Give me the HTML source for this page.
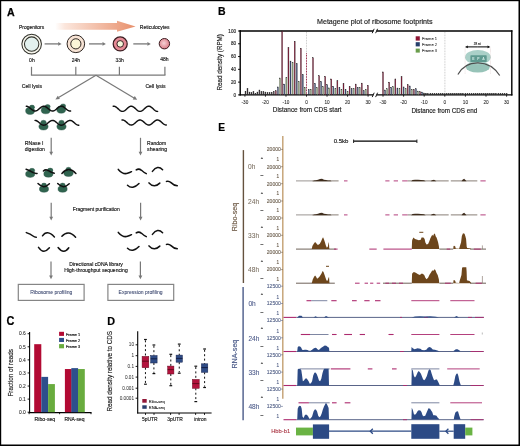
<!DOCTYPE html>
<html><head><meta charset="utf-8"><style>
html,body{margin:0;padding:0;background:#fff;}
svg{display:block;will-change:transform;}
text{font-family:"Liberation Sans", sans-serif;}
</style></head><body>
<svg width="520" height="446" viewBox="0 0 520 446">
<rect x="0" y="0" width="520" height="446" fill="#fff"/>
<text x="6.90" y="15.90" font-size="10.6" fill="#000" stroke="#000" stroke-width="0.25" font-weight="bold">A</text>
<defs><linearGradient id="ga" x1="0" x2="1" y1="0" y2="0"><stop offset="0" stop-color="#fff" stop-opacity="1"/><stop offset="0.12" stop-color="#fbe6dc"/><stop offset="1" stop-color="#e8906c"/></linearGradient><radialGradient id="g48" cx="0.45" cy="0.45" r="0.6"><stop offset="0" stop-color="#f6d3d6"/><stop offset="1" stop-color="#d7737f"/></radialGradient></defs>
<path d="M55.2,23.1 L117.0,23.1 L117.0,20.8 L135.6,26.4 L117.0,31.8 L117.0,29.8 L55.2,29.8 Z" fill="url(#ga)"/>
<text x="19.00" y="28.50" font-size="5.0" fill="#1a1a1a" stroke="#1a1a1a" stroke-width="0.16" textLength="25.20" lengthAdjust="spacingAndGlyphs">Progenitors</text>
<text x="139.80" y="28.50" font-size="5.0" fill="#1a1a1a" stroke="#1a1a1a" stroke-width="0.16" textLength="29.60" lengthAdjust="spacingAndGlyphs">Reticulocytes</text>
<circle cx="31.65" cy="44.10" r="9.80" fill="#f9f8ef" stroke="#33332c" stroke-width="1.05"/>
<circle cx="31.65" cy="44.10" r="7.20" fill="#e3f1ee" stroke="#33332c" stroke-width="1.05"/>
<circle cx="75.85" cy="43.85" r="8.80" fill="#f7e3d4" stroke="#2e2622" stroke-width="1.0"/>
<circle cx="75.85" cy="43.85" r="5.10" fill="#fcf5d8" stroke="#2e2622" stroke-width="1.0"/>
<circle cx="120.20" cy="43.90" r="7.00" fill="#e58a95" stroke="#3a1c20" stroke-width="1.25"/>
<circle cx="120.20" cy="43.90" r="3.30" fill="#f3f7da" stroke="#3a1c20" stroke-width="1.0"/>
<circle cx="164.4" cy="43.7" r="5.2" fill="url(#g48)" stroke="#3a1c20" stroke-width="1.0"/>
<line x1="44.60" y1="43.90" x2="58.50" y2="43.90" stroke="#787878" stroke-width="1.3"/>
<polygon points="61.60,43.90 58.20,45.70 58.20,42.10" fill="#787878"/>
<line x1="89.00" y1="43.90" x2="102.80" y2="43.90" stroke="#787878" stroke-width="1.3"/>
<polygon points="105.90,43.90 102.50,45.70 102.50,42.10" fill="#787878"/>
<line x1="133.30" y1="43.90" x2="147.70" y2="43.90" stroke="#787878" stroke-width="1.3"/>
<polygon points="150.80,43.90 147.40,45.70 147.40,42.10" fill="#787878"/>
<text x="31.90" y="61.80" font-size="5.0" fill="#1a1a1a" stroke="#1a1a1a" stroke-width="0.16" text-anchor="middle">0h</text>
<text x="75.80" y="62.10" font-size="5.0" fill="#1a1a1a" stroke="#1a1a1a" stroke-width="0.16" text-anchor="middle">24h</text>
<text x="119.60" y="62.20" font-size="5.0" fill="#1a1a1a" stroke="#1a1a1a" stroke-width="0.16" text-anchor="middle">33h</text>
<text x="164.40" y="60.70" font-size="5.0" fill="#1a1a1a" stroke="#1a1a1a" stroke-width="0.16" text-anchor="middle">48h</text>
<line x1="31.50" y1="66.80" x2="31.50" y2="75.10" stroke="#787878" stroke-width="1.2"/>
<line x1="75.80" y1="66.80" x2="75.80" y2="75.10" stroke="#787878" stroke-width="1.2"/>
<line x1="119.40" y1="66.80" x2="119.40" y2="75.10" stroke="#787878" stroke-width="1.2"/>
<line x1="164.90" y1="66.80" x2="164.90" y2="75.10" stroke="#787878" stroke-width="1.2"/>
<line x1="30.90" y1="75.10" x2="165.50" y2="75.10" stroke="#787878" stroke-width="1.2"/>
<line x1="96.00" y1="75.30" x2="58.58" y2="97.51" stroke="#787878" stroke-width="1.2"/>
<polygon points="55.40,99.40 57.82,95.64 59.86,99.08" fill="#787878"/>
<line x1="96.00" y1="75.30" x2="134.02" y2="97.91" stroke="#787878" stroke-width="1.2"/>
<polygon points="137.20,99.80 132.74,99.47 134.78,96.04" fill="#787878"/>
<text x="21.80" y="88.20" font-size="5.0" fill="#1a1a1a" stroke="#1a1a1a" stroke-width="0.16" textLength="20.30" lengthAdjust="spacingAndGlyphs">Cell lysis</text>
<text x="145.40" y="88.20" font-size="5.0" fill="#1a1a1a" stroke="#1a1a1a" stroke-width="0.16" textLength="20.20" lengthAdjust="spacingAndGlyphs">Cell lysis</text>
<ellipse cx="30.10" cy="110.80" rx="4.50" ry="3.60" fill="#30644f" stroke="#244f42" stroke-width="0.4"/>
<ellipse cx="32.00" cy="107.20" rx="2.60" ry="2.10" fill="#30644f" stroke="#244f42" stroke-width="0.4"/>
<ellipse cx="45.70" cy="110.20" rx="4.50" ry="3.60" fill="#30644f" stroke="#244f42" stroke-width="0.4"/>
<ellipse cx="47.60" cy="106.60" rx="2.60" ry="2.10" fill="#30644f" stroke="#244f42" stroke-width="0.4"/>
<ellipse cx="61.20" cy="109.60" rx="4.50" ry="3.60" fill="#30644f" stroke="#244f42" stroke-width="0.4"/>
<ellipse cx="63.10" cy="106.00" rx="2.60" ry="2.10" fill="#30644f" stroke="#244f42" stroke-width="0.4"/>
<polyline points="26.30,106.20 26.80,106.24 27.30,106.35 27.79,106.54 28.29,106.79 28.79,107.10 29.29,107.45 29.78,107.85 30.28,108.26 30.78,108.69 31.28,109.12 31.78,109.52 32.27,109.90 32.77,110.24 33.27,110.53 33.77,110.75 34.26,110.91 34.76,110.99 35.26,110.99 35.76,110.92 36.26,110.78 36.75,110.57 37.25,110.29 37.75,109.96 38.25,109.59 38.74,109.18 39.24,108.76 39.74,108.33 40.24,107.91 40.73,107.51 41.23,107.15 41.73,106.83 42.23,106.57 42.73,106.38 43.22,106.25 43.72,106.20 44.22,106.23 44.72,106.33 45.21,106.50 45.71,106.74 46.21,107.04 46.71,107.39 47.21,107.78 47.70,108.20 48.20,108.62 48.70,109.05 49.20,109.46 49.69,109.85 50.19,110.19 50.69,110.48 51.19,110.72 51.69,110.89 52.18,110.98 52.68,111.00 53.18,110.94 53.68,110.81 54.17,110.60 54.67,110.34 55.17,110.01 55.67,109.65 56.17,109.25 56.66,108.83 57.16,108.40 57.66,107.98 58.16,107.57 58.65,107.20 59.15,106.88 59.65,106.61 60.15,106.40 60.64,106.27 61.14,106.20 61.64,106.22 62.14,106.31 62.64,106.47 63.13,106.70 63.63,106.99 64.13,107.34 64.63,107.72 65.12,108.13 65.62,108.55 66.12,108.98 66.62,109.40 67.12,109.79 67.61,110.14 68.11,110.44 68.61,110.69 69.11,110.86 69.60,110.97 70.10,111.00 70.60,110.95" fill="none" stroke="#111" stroke-width="1.45" stroke-linecap="round" stroke-linejoin="round"/>
<ellipse cx="43.50" cy="126.60" rx="4.60" ry="3.40" fill="#30644f" stroke="#244f42" stroke-width="0.4"/>
<ellipse cx="43.50" cy="122.30" rx="2.70" ry="2.00" fill="#30644f" stroke="#244f42" stroke-width="0.4"/>
<ellipse cx="61.50" cy="126.60" rx="4.60" ry="3.40" fill="#30644f" stroke="#244f42" stroke-width="0.4"/>
<ellipse cx="61.50" cy="122.30" rx="2.70" ry="2.00" fill="#30644f" stroke="#244f42" stroke-width="0.4"/>
<polyline points="35.00,120.40 35.50,120.44 36.00,120.55 36.49,120.74 36.99,120.99 37.49,121.30 37.99,121.65 38.48,122.05 38.98,122.46 39.48,122.89 39.98,123.31 40.48,123.72 40.97,124.10 41.47,124.44 41.97,124.73 42.47,124.95 42.96,125.10 43.46,125.19 43.96,125.19 44.46,125.12 44.95,124.98 45.45,124.77 45.95,124.49 46.45,124.16 46.95,123.79 47.44,123.38 47.94,122.96 48.44,122.53 48.94,122.11 49.43,121.71 49.93,121.35 50.43,121.03 50.93,120.77 51.42,120.58 51.92,120.45 52.42,120.40 52.92,120.43 53.42,120.53 53.91,120.70 54.41,120.94 54.91,121.24 55.41,121.59 55.90,121.98 56.40,122.39 56.90,122.82 57.40,123.25 57.90,123.66 58.39,124.04 58.89,124.39 59.39,124.68 59.89,124.92 60.38,125.08 60.88,125.18 61.38,125.20 61.88,125.14 62.38,125.01 62.87,124.80 63.37,124.54 63.87,124.22 64.37,123.85 64.86,123.45 65.36,123.03 65.86,122.60 66.36,122.18 66.85,121.77 67.35,121.41 67.85,121.08 68.35,120.81 68.85,120.60 69.34,120.47 69.84,120.40 70.34,120.42 70.84,120.51 71.33,120.67 71.83,120.90 72.33,121.19 72.83,121.53 73.32,121.92 73.82,122.33 74.32,122.75 74.82,123.18 75.32,123.60 75.81,123.99 76.31,124.34 76.81,124.64 77.31,124.88 77.80,125.06 78.30,125.17 78.80,125.20" fill="none" stroke="#111" stroke-width="1.45" stroke-linecap="round" stroke-linejoin="round"/>
<polyline points="113.20,106.25 113.70,106.20 114.20,106.23 114.70,106.35 115.20,106.54 115.69,106.81 116.19,107.14 116.69,107.52 117.19,107.94 117.69,108.40 118.19,108.86 118.69,109.32 119.19,109.77 119.69,110.18 120.18,110.55 120.68,110.87 121.18,111.11 121.68,111.29 122.18,111.38 122.68,111.39 123.18,111.32 123.68,111.17 124.18,110.94 124.67,110.65 125.17,110.29 125.67,109.89 126.17,109.45 126.67,108.99 127.17,108.53 127.67,108.07 128.17,107.64 128.67,107.24 129.16,106.90 129.66,106.61 130.16,106.40 130.66,106.26 131.16,106.20 131.66,106.23 132.16,106.34 132.66,106.52 133.16,106.78 133.65,107.11 134.15,107.49 134.65,107.91 135.15,108.36 135.65,108.82 136.15,109.29 136.65,109.73 137.15,110.15 137.64,110.52 138.14,110.84 138.64,111.10 139.14,111.28 139.64,111.38 140.14,111.40 140.64,111.33 141.14,111.19 141.64,110.96 142.13,110.67 142.63,110.32 143.13,109.92 143.63,109.49 144.13,109.03 144.63,108.56 145.13,108.11 145.63,107.67 146.13,107.27 146.62,106.92 147.12,106.63 147.62,106.41 148.12,106.27 148.62,106.20 149.12,106.22 149.62,106.33 150.12,106.51 150.62,106.76 151.11,107.08 151.61,107.46 152.11,107.88 152.61,108.32 153.11,108.79 153.61,109.25 154.11,109.70 154.61,110.12 155.11,110.50 155.60,110.82 156.10,111.08 156.60,111.27 157.10,111.37 157.60,111.40" fill="none" stroke="#111" stroke-width="1.45" stroke-linecap="round" stroke-linejoin="round"/>
<polyline points="122.00,120.04 122.50,120.00 123.00,120.04 123.49,120.16 123.99,120.35 124.49,120.61 124.99,120.93 125.48,121.30 125.98,121.71 126.48,122.15 126.98,122.59 127.48,123.03 127.97,123.46 128.47,123.86 128.97,124.21 129.47,124.50 129.96,124.74 130.46,124.90 130.96,124.99 131.46,124.99 131.96,124.92 132.45,124.77 132.95,124.55 133.45,124.26 133.95,123.92 134.44,123.53 134.94,123.11 135.44,122.67 135.94,122.22 136.43,121.78 136.93,121.37 137.43,120.99 137.93,120.66 138.43,120.39 138.92,120.18 139.42,120.05 139.92,120.00 140.42,120.03 140.91,120.13 141.41,120.31 141.91,120.57 142.41,120.88 142.91,121.24 143.40,121.65 143.90,122.08 144.40,122.52 144.90,122.97 145.39,123.39 145.89,123.80 146.39,124.15 146.89,124.46 147.39,124.71 147.88,124.88 148.38,124.98 148.88,125.00 149.38,124.94 149.87,124.80 150.37,124.59 150.87,124.31 151.37,123.97 151.87,123.59 152.36,123.18 152.86,122.74 153.36,122.29 153.86,121.85 154.35,121.43 154.85,121.05 155.35,120.71 155.85,120.43 156.34,120.21 156.84,120.07 157.34,120.00 157.84,120.02 158.34,120.11 158.83,120.28 159.33,120.52 159.83,120.82 160.33,121.18 160.82,121.58 161.32,122.01 161.82,122.45 162.32,122.90 162.82,123.33 163.31,123.73 163.81,124.10 164.31,124.42 164.81,124.67 165.30,124.86 165.80,124.97 166.30,125.00" fill="none" stroke="#111" stroke-width="1.45" stroke-linecap="round" stroke-linejoin="round"/>
<text x="24.70" y="145.30" font-size="5.0" fill="#1a1a1a" stroke="#1a1a1a" stroke-width="0.16" textLength="18.80" lengthAdjust="spacingAndGlyphs">RNase I</text>
<text x="24.70" y="150.90" font-size="5.0" fill="#1a1a1a" stroke="#1a1a1a" stroke-width="0.16" textLength="20.20" lengthAdjust="spacingAndGlyphs">digestion</text>
<text x="147.10" y="145.30" font-size="5.0" fill="#1a1a1a" stroke="#1a1a1a" stroke-width="0.16" textLength="19.00" lengthAdjust="spacingAndGlyphs">Random</text>
<text x="147.10" y="150.90" font-size="5.0" fill="#1a1a1a" stroke="#1a1a1a" stroke-width="0.16" textLength="20.00" lengthAdjust="spacingAndGlyphs">shearing</text>
<line x1="51.20" y1="137.80" x2="51.20" y2="152.10" stroke="#787878" stroke-width="1.2"/>
<polygon points="51.20,155.40 49.30,151.80 53.10,151.80" fill="#787878"/>
<line x1="140.50" y1="137.80" x2="140.50" y2="152.10" stroke="#787878" stroke-width="1.2"/>
<polygon points="140.50,155.40 138.60,151.80 142.40,151.80" fill="#787878"/>
<ellipse cx="30.20" cy="174.10" rx="4.60" ry="3.30" fill="#30644f" stroke="#244f42" stroke-width="0.4"/>
<ellipse cx="32.00" cy="170.50" rx="2.70" ry="2.20" fill="#30644f" stroke="#244f42" stroke-width="0.4"/>
<path d="M26.1,169.3 Q30,170.6 33.2,172.7 Q35,173.6 37.1,173.4" fill="none" stroke="#111" stroke-width="1.5" stroke-linecap="round"/>
<ellipse cx="48.40" cy="173.90" rx="4.60" ry="3.30" fill="#30644f" stroke="#244f42" stroke-width="0.4"/>
<ellipse cx="50.20" cy="170.30" rx="2.70" ry="2.20" fill="#30644f" stroke="#244f42" stroke-width="0.4"/>
<path d="M43.4,171.0 Q45.5,169.0 48.5,170.6 Q51.5,172.6 54.2,173.3" fill="none" stroke="#111" stroke-width="1.5" stroke-linecap="round"/>
<ellipse cx="68.50" cy="173.20" rx="4.60" ry="3.30" fill="#30644f" stroke="#244f42" stroke-width="0.4"/>
<ellipse cx="68.50" cy="169.40" rx="2.60" ry="2.10" fill="#30644f" stroke="#244f42" stroke-width="0.4"/>
<path d="M61.9,173.4 Q68.6,165.8 75.9,173.4" fill="none" stroke="#111" stroke-width="1.5" stroke-linecap="round"/>
<ellipse cx="44.00" cy="189.00" rx="4.60" ry="3.30" fill="#30644f" stroke="#244f42" stroke-width="0.4"/>
<ellipse cx="44.00" cy="185.20" rx="2.60" ry="2.10" fill="#30644f" stroke="#244f42" stroke-width="0.4"/>
<path d="M38.0,183.6 Q43.7,189.6 49.4,183.8" fill="none" stroke="#111" stroke-width="1.5" stroke-linecap="round"/>
<ellipse cx="62.60" cy="189.00" rx="4.60" ry="3.30" fill="#30644f" stroke="#244f42" stroke-width="0.4"/>
<ellipse cx="62.60" cy="185.20" rx="2.60" ry="2.10" fill="#30644f" stroke="#244f42" stroke-width="0.4"/>
<path d="M57.7,183.6 Q63.4,189.6 69.2,183.8" fill="none" stroke="#111" stroke-width="1.5" stroke-linecap="round"/>
<path d="M118.3,169.4 Q123,174.8 127.5,173.3 Q129.8,172.6 131.5,171.7" fill="none" stroke="#111" stroke-width="1.5" stroke-linecap="round"/>
<path d="M136.2,169.9 Q138.8,168.2 141.5,170.3 Q144,172.6 146.3,173.6" fill="none" stroke="#111" stroke-width="1.5" stroke-linecap="round"/>
<path d="M152.4,171.4 Q157.6,164.6 162.6,169.8" fill="none" stroke="#111" stroke-width="1.5" stroke-linecap="round"/>
<path d="M127.5,185.3 Q132.5,190.2 139.0,183.5" fill="none" stroke="#111" stroke-width="1.5" stroke-linecap="round"/>
<path d="M149.0,182.9 Q154.2,188.6 159.8,183.1" fill="none" stroke="#111" stroke-width="1.5" stroke-linecap="round"/>
<path d="M166.5,181.4 Q168.8,180.6 171.0,182.6 Q174,185.6 177.3,185.8" fill="none" stroke="#111" stroke-width="1.5" stroke-linecap="round"/>
<text x="72.70" y="210.60" font-size="5.0" fill="#1a1a1a" stroke="#1a1a1a" stroke-width="0.16" textLength="47.00" lengthAdjust="spacingAndGlyphs">Fragment purification</text>
<line x1="51.20" y1="202.80" x2="51.20" y2="217.10" stroke="#787878" stroke-width="1.2"/>
<polygon points="51.20,220.40 49.30,216.80 53.10,216.80" fill="#787878"/>
<line x1="140.60" y1="202.80" x2="140.60" y2="217.10" stroke="#787878" stroke-width="1.2"/>
<polygon points="140.60,220.40 138.70,216.80 142.50,216.80" fill="#787878"/>
<path d="M26.3,232.6 Q30.5,234.0 33.0,236.0 Q34.6,237.3 36.3,237.2" fill="none" stroke="#111" stroke-width="1.5" stroke-linecap="round"/>
<path d="M42.5,235.8 Q47.0,229.2 54.4,236.9" fill="none" stroke="#111" stroke-width="1.5" stroke-linecap="round"/>
<path d="M61.9,236.3 Q68.1,229.2 75.6,237.2" fill="none" stroke="#111" stroke-width="1.5" stroke-linecap="round"/>
<path d="M38.5,247.3 Q43.6,254.8 49.4,247.8" fill="none" stroke="#111" stroke-width="1.5" stroke-linecap="round"/>
<path d="M58.1,247.5 Q63.8,254.8 68.8,247.8" fill="none" stroke="#111" stroke-width="1.5" stroke-linecap="round"/>
<path d="M118.3,169.4 Q123,174.8 127.5,173.3 Q129.8,172.6 131.5,171.7" fill="none" stroke="#111" stroke-width="1.5" stroke-linecap="round" transform="translate(0 63.0)"/>
<path d="M136.2,169.9 Q138.8,168.2 141.5,170.3 Q144,172.6 146.3,173.6" fill="none" stroke="#111" stroke-width="1.5" stroke-linecap="round" transform="translate(0 63.0)"/>
<path d="M152.4,171.4 Q157.6,164.6 162.6,169.8" fill="none" stroke="#111" stroke-width="1.5" stroke-linecap="round" transform="translate(0 63.0)"/>
<path d="M127.5,185.3 Q132.5,190.2 139.0,183.5" fill="none" stroke="#111" stroke-width="1.5" stroke-linecap="round" transform="translate(0 63.0)"/>
<path d="M149.0,182.9 Q154.2,188.6 159.8,183.1" fill="none" stroke="#111" stroke-width="1.5" stroke-linecap="round" transform="translate(0 63.0)"/>
<path d="M166.5,181.4 Q168.8,180.6 171.0,182.6 Q174,185.6 177.3,185.8" fill="none" stroke="#111" stroke-width="1.5" stroke-linecap="round" transform="translate(0 63.0)"/>
<line x1="51.00" y1="261.60" x2="51.00" y2="275.90" stroke="#787878" stroke-width="1.2"/>
<polygon points="51.00,279.20 49.10,275.60 52.90,275.60" fill="#787878"/>
<line x1="140.40" y1="261.60" x2="140.40" y2="275.90" stroke="#787878" stroke-width="1.2"/>
<polygon points="140.40,279.20 138.50,275.60 142.30,275.60" fill="#787878"/>
<text x="69.30" y="265.80" font-size="5.0" fill="#1a1a1a" stroke="#1a1a1a" stroke-width="0.16" textLength="53.60" lengthAdjust="spacingAndGlyphs">Directional cDNA library</text>
<text x="64.30" y="271.50" font-size="5.0" fill="#1a1a1a" stroke="#1a1a1a" stroke-width="0.16" textLength="63.40" lengthAdjust="spacingAndGlyphs">High-throughput sequencing</text>
<rect x="18.3" y="284.4" width="65.8" height="16.0" fill="none" stroke="#858585" stroke-width="1.2"/>
<rect x="107.9" y="284.4" width="65.8" height="16.0" fill="none" stroke="#858585" stroke-width="1.2"/>
<text x="30.30" y="293.60" font-size="5.0" fill="#34406a" stroke="#34406a" stroke-width="0.05" textLength="42.00" lengthAdjust="spacingAndGlyphs">Ribosome profiling</text>
<text x="118.60" y="293.60" font-size="5.0" fill="#34406a" stroke="#34406a" stroke-width="0.05" textLength="44.00" lengthAdjust="spacingAndGlyphs">Expression profiling</text>
<text x="6.40" y="325.00" font-size="12.0" fill="#000" stroke="#000" stroke-width="0.2" font-weight="bold" textLength="7.90" lengthAdjust="spacingAndGlyphs">C</text>
<line x1="29.60" y1="332.00" x2="29.60" y2="412.80" stroke="#000" stroke-width="1.1"/>
<line x1="28.80" y1="412.60" x2="91.40" y2="412.60" stroke="#000" stroke-width="1.3"/>
<line x1="27.60" y1="412.20" x2="29.60" y2="412.20" stroke="#000" stroke-width="0.9"/>
<text x="25.80" y="413.90" font-size="4.9" fill="#222" stroke="#222" stroke-width="0.06" text-anchor="end">0.0</text>
<line x1="27.60" y1="399.12" x2="29.60" y2="399.12" stroke="#000" stroke-width="0.9"/>
<text x="25.80" y="400.82" font-size="4.9" fill="#222" stroke="#222" stroke-width="0.06" text-anchor="end">0.1</text>
<line x1="27.60" y1="386.04" x2="29.60" y2="386.04" stroke="#000" stroke-width="0.9"/>
<text x="25.80" y="387.74" font-size="4.9" fill="#222" stroke="#222" stroke-width="0.06" text-anchor="end">0.2</text>
<line x1="27.60" y1="372.96" x2="29.60" y2="372.96" stroke="#000" stroke-width="0.9"/>
<text x="25.80" y="374.66" font-size="4.9" fill="#222" stroke="#222" stroke-width="0.06" text-anchor="end">0.3</text>
<line x1="27.60" y1="359.88" x2="29.60" y2="359.88" stroke="#000" stroke-width="0.9"/>
<text x="25.80" y="361.58" font-size="4.9" fill="#222" stroke="#222" stroke-width="0.06" text-anchor="end">0.4</text>
<line x1="27.60" y1="346.80" x2="29.60" y2="346.80" stroke="#000" stroke-width="0.9"/>
<text x="25.80" y="348.50" font-size="4.9" fill="#222" stroke="#222" stroke-width="0.06" text-anchor="end">0.5</text>
<line x1="27.60" y1="333.72" x2="29.60" y2="333.72" stroke="#000" stroke-width="0.9"/>
<text x="25.80" y="335.42" font-size="4.9" fill="#222" stroke="#222" stroke-width="0.06" text-anchor="end">0.6</text>
<line x1="29.10" y1="412.20" x2="29.10" y2="414.20" stroke="#000" stroke-width="0.9"/>
<line x1="59.60" y1="412.20" x2="59.60" y2="414.20" stroke="#000" stroke-width="0.9"/>
<line x1="91.00" y1="412.20" x2="91.00" y2="414.20" stroke="#000" stroke-width="0.9"/>
<rect x="34.20" y="344.18" width="7.10" height="68.02" fill="#b20a33"/>
<rect x="41.30" y="376.88" width="6.80" height="35.32" fill="#2e4f8c"/>
<rect x="48.10" y="384.08" width="6.80" height="28.12" fill="#69ac3e"/>
<rect x="64.90" y="369.04" width="6.80" height="43.16" fill="#b20a33"/>
<rect x="71.30" y="368.12" width="6.80" height="44.08" fill="#2e4f8c"/>
<rect x="78.00" y="369.04" width="6.80" height="43.16" fill="#69ac3e"/>
<rect x="59.10" y="331.80" width="4.90" height="4.10" fill="#b20a33"/>
<rect x="59.10" y="337.90" width="4.90" height="4.10" fill="#2e4f8c"/>
<rect x="59.10" y="344.10" width="4.90" height="4.20" fill="#69ac3e"/>
<text x="65.90" y="335.90" font-size="3.9" fill="#111" stroke="#111" stroke-width="0.15" textLength="14.30" lengthAdjust="spacingAndGlyphs">Frame 1</text>
<text x="65.90" y="342.00" font-size="3.9" fill="#111" stroke="#111" stroke-width="0.15" textLength="14.30" lengthAdjust="spacingAndGlyphs">Frame 2</text>
<text x="65.90" y="348.30" font-size="3.9" fill="#111" stroke="#111" stroke-width="0.15" textLength="14.30" lengthAdjust="spacingAndGlyphs">Frame 3</text>
<text x="13.40" y="372.80" font-size="6.3" fill="#222" stroke="#222" stroke-width="0.16" text-anchor="middle" textLength="47.50" lengthAdjust="spacingAndGlyphs" transform="rotate(-90 13.40 372.80)">Fraction of reads</text>
<text x="34.60" y="421.30" font-size="5.0" fill="#222" stroke="#222" stroke-width="0.16" textLength="20.60" lengthAdjust="spacingAndGlyphs">Ribo-seq</text>
<text x="64.40" y="421.30" font-size="5.0" fill="#222" stroke="#222" stroke-width="0.16" textLength="20.20" lengthAdjust="spacingAndGlyphs">RNA-seq</text>
<text x="107.30" y="324.80" font-size="11.0" fill="#000" stroke="#000" stroke-width="0.2" font-weight="bold" textLength="7.80" lengthAdjust="spacingAndGlyphs">D</text>
<line x1="137.70" y1="331.20" x2="137.70" y2="413.50" stroke="#000" stroke-width="1.1"/>
<line x1="137.20" y1="413.00" x2="211.60" y2="413.00" stroke="#000" stroke-width="1.1"/>
<line x1="135.60" y1="344.80" x2="137.70" y2="344.80" stroke="#000" stroke-width="0.9"/>
<text x="134.00" y="346.40" font-size="4.7" fill="#333" stroke="#333" stroke-width="0.03" text-anchor="end">10</text>
<line x1="135.60" y1="355.70" x2="137.70" y2="355.70" stroke="#000" stroke-width="0.9"/>
<text x="134.00" y="357.30" font-size="4.7" fill="#333" stroke="#333" stroke-width="0.03" text-anchor="end">1</text>
<line x1="135.60" y1="366.40" x2="137.70" y2="366.40" stroke="#000" stroke-width="0.9"/>
<text x="134.00" y="368.00" font-size="4.7" fill="#333" stroke="#333" stroke-width="0.03" text-anchor="end">0.1</text>
<line x1="135.60" y1="377.10" x2="137.70" y2="377.10" stroke="#000" stroke-width="0.9"/>
<text x="134.00" y="378.70" font-size="4.7" fill="#333" stroke="#333" stroke-width="0.03" text-anchor="end">0.01</text>
<line x1="135.60" y1="388.20" x2="137.70" y2="388.20" stroke="#000" stroke-width="0.9"/>
<text x="134.00" y="389.80" font-size="4.7" fill="#333" stroke="#333" stroke-width="0.03" text-anchor="end">0.001</text>
<line x1="135.60" y1="398.20" x2="137.70" y2="398.20" stroke="#000" stroke-width="0.9"/>
<text x="134.00" y="399.80" font-size="4.7" fill="#333" stroke="#333" stroke-width="0.03" text-anchor="end">0.0001</text>
<line x1="145.50" y1="413.00" x2="145.50" y2="414.90" stroke="#000" stroke-width="0.9"/>
<line x1="154.00" y1="413.00" x2="154.00" y2="414.90" stroke="#000" stroke-width="0.9"/>
<line x1="170.60" y1="413.00" x2="170.60" y2="414.90" stroke="#000" stroke-width="0.9"/>
<line x1="179.10" y1="413.00" x2="179.10" y2="414.90" stroke="#000" stroke-width="0.9"/>
<line x1="195.60" y1="413.00" x2="195.60" y2="414.90" stroke="#000" stroke-width="0.9"/>
<line x1="204.50" y1="413.00" x2="204.50" y2="414.90" stroke="#000" stroke-width="0.9"/>
<line x1="145.45" y1="340.30" x2="145.45" y2="356.40" stroke="#111" stroke-width="1.0" stroke-dasharray="2.0,2.4"/>
<line x1="145.45" y1="367.70" x2="145.45" y2="383.40" stroke="#111" stroke-width="1.0" stroke-dasharray="2.0,2.4"/>
<line x1="144.05" y1="339.50" x2="146.85" y2="339.50" stroke="#111" stroke-width="1.2"/>
<line x1="144.05" y1="384.20" x2="146.85" y2="384.20" stroke="#111" stroke-width="1.2"/>
<rect x="142.10" y="356.40" width="6.70" height="11.30" fill="#b3133d" stroke="#6a0820" stroke-width="0.5"/>
<line x1="142.10" y1="361.20" x2="148.80" y2="361.20" stroke="#5a0a1a" stroke-width="0.9"/>
<line x1="153.90" y1="345.80" x2="153.90" y2="355.60" stroke="#111" stroke-width="1.0" stroke-dasharray="2.0,2.4"/>
<line x1="153.90" y1="363.00" x2="153.90" y2="372.80" stroke="#111" stroke-width="1.0" stroke-dasharray="2.0,2.4"/>
<line x1="152.50" y1="345.00" x2="155.30" y2="345.00" stroke="#111" stroke-width="1.2"/>
<line x1="152.50" y1="373.60" x2="155.30" y2="373.60" stroke="#111" stroke-width="1.2"/>
<rect x="150.70" y="355.60" width="6.40" height="7.40" fill="#2f4c86" stroke="#18244e" stroke-width="0.5"/>
<line x1="150.70" y1="358.80" x2="157.10" y2="358.80" stroke="#101a40" stroke-width="0.9"/>
<line x1="170.80" y1="355.10" x2="170.80" y2="366.10" stroke="#111" stroke-width="1.0" stroke-dasharray="2.0,2.4"/>
<line x1="170.80" y1="374.00" x2="170.80" y2="384.90" stroke="#111" stroke-width="1.0" stroke-dasharray="2.0,2.4"/>
<line x1="169.40" y1="354.30" x2="172.20" y2="354.30" stroke="#111" stroke-width="1.2"/>
<line x1="169.40" y1="385.70" x2="172.20" y2="385.70" stroke="#111" stroke-width="1.2"/>
<rect x="167.70" y="366.10" width="6.20" height="7.90" fill="#b3133d" stroke="#6a0820" stroke-width="0.5"/>
<line x1="167.70" y1="369.60" x2="173.90" y2="369.60" stroke="#5a0a1a" stroke-width="0.9"/>
<line x1="179.25" y1="344.90" x2="179.25" y2="355.10" stroke="#111" stroke-width="1.0" stroke-dasharray="2.0,2.4"/>
<line x1="179.25" y1="362.20" x2="179.25" y2="372.40" stroke="#111" stroke-width="1.0" stroke-dasharray="2.0,2.4"/>
<line x1="177.85" y1="344.10" x2="180.65" y2="344.10" stroke="#111" stroke-width="1.2"/>
<line x1="177.85" y1="373.20" x2="180.65" y2="373.20" stroke="#111" stroke-width="1.2"/>
<rect x="176.10" y="355.10" width="6.30" height="7.10" fill="#2f4c86" stroke="#18244e" stroke-width="0.5"/>
<line x1="176.10" y1="358.40" x2="182.40" y2="358.40" stroke="#101a40" stroke-width="0.9"/>
<line x1="195.80" y1="367.00" x2="195.80" y2="379.40" stroke="#111" stroke-width="1.0" stroke-dasharray="2.0,2.4"/>
<line x1="195.80" y1="388.30" x2="195.80" y2="400.80" stroke="#111" stroke-width="1.0" stroke-dasharray="2.0,2.4"/>
<line x1="194.40" y1="366.20" x2="197.20" y2="366.20" stroke="#111" stroke-width="1.2"/>
<line x1="194.40" y1="401.60" x2="197.20" y2="401.60" stroke="#111" stroke-width="1.2"/>
<rect x="192.40" y="379.40" width="6.80" height="8.90" fill="#b3133d" stroke="#6a0820" stroke-width="0.5"/>
<line x1="192.40" y1="383.60" x2="199.20" y2="383.60" stroke="#5a0a1a" stroke-width="0.9"/>
<line x1="204.60" y1="349.80" x2="204.60" y2="363.80" stroke="#111" stroke-width="1.0" stroke-dasharray="2.0,2.4"/>
<line x1="204.60" y1="372.30" x2="204.60" y2="386.70" stroke="#111" stroke-width="1.0" stroke-dasharray="2.0,2.4"/>
<line x1="203.20" y1="349.00" x2="206.00" y2="349.00" stroke="#111" stroke-width="1.2"/>
<line x1="203.20" y1="387.50" x2="206.00" y2="387.50" stroke="#111" stroke-width="1.2"/>
<rect x="201.40" y="363.80" width="6.40" height="8.50" fill="#2f4c86" stroke="#18244e" stroke-width="0.5"/>
<line x1="201.40" y1="367.60" x2="207.80" y2="367.60" stroke="#101a40" stroke-width="0.9"/>
<rect x="142.30" y="399.00" width="4.40" height="3.70" fill="#921838"/>
<rect x="142.30" y="405.30" width="4.40" height="3.50" fill="#2a3f6e"/>
<text x="148.80" y="403.00" font-size="3.9" fill="#222" stroke="#222" stroke-width="0.1" textLength="16.00" lengthAdjust="spacingAndGlyphs">Ribo-seq</text>
<text x="148.80" y="409.10" font-size="3.9" fill="#222" stroke="#222" stroke-width="0.1" textLength="16.00" lengthAdjust="spacingAndGlyphs">RNA-seq</text>
<text x="142.00" y="421.30" font-size="5.0" fill="#222" stroke="#222" stroke-width="0.16" textLength="15.60" lengthAdjust="spacingAndGlyphs">5pUTR</text>
<text x="167.20" y="421.30" font-size="5.0" fill="#222" stroke="#222" stroke-width="0.16" textLength="15.60" lengthAdjust="spacingAndGlyphs">3pUTR</text>
<text x="194.20" y="421.30" font-size="5.0" fill="#222" stroke="#222" stroke-width="0.16" textLength="12.20" lengthAdjust="spacingAndGlyphs">intron</text>
<text x="112.40" y="371.20" font-size="6.3" fill="#222" stroke="#222" stroke-width="0.16" text-anchor="middle" textLength="80.50" lengthAdjust="spacingAndGlyphs" transform="rotate(-90 112.40 371.20)">Read density relative to CDS</text>
<text x="217.90" y="15.40" font-size="10.5" fill="#000" stroke="#000" stroke-width="0.2" font-weight="bold">B</text>
<text x="317.00" y="24.00" font-size="7.1" fill="#222" stroke="#222" stroke-width="0.16" textLength="115.60" lengthAdjust="spacingAndGlyphs">Metagene plot of ribosome footprints</text>
<line x1="240.20" y1="30.30" x2="240.20" y2="95.60" stroke="#000" stroke-width="1.4"/>
<line x1="239.50" y1="31.00" x2="373.40" y2="31.00" stroke="#000" stroke-width="1.4"/>
<line x1="376.60" y1="31.00" x2="512.40" y2="31.00" stroke="#000" stroke-width="1.4"/>
<line x1="511.80" y1="30.30" x2="511.80" y2="95.60" stroke="#000" stroke-width="1.4"/>
<line x1="239.50" y1="94.90" x2="373.40" y2="94.90" stroke="#000" stroke-width="1.4"/>
<line x1="376.60" y1="94.90" x2="512.40" y2="94.90" stroke="#000" stroke-width="1.4"/>
<line x1="372.20" y1="33.20" x2="374.20" y2="28.80" stroke="#000" stroke-width="0.9"/>
<line x1="375.60" y1="33.20" x2="377.60" y2="28.80" stroke="#000" stroke-width="0.9"/>
<line x1="372.20" y1="97.10" x2="374.20" y2="92.70" stroke="#000" stroke-width="0.9"/>
<line x1="375.60" y1="97.10" x2="377.60" y2="92.70" stroke="#000" stroke-width="0.9"/>
<line x1="238.00" y1="94.90" x2="240.20" y2="94.90" stroke="#000" stroke-width="0.9"/>
<text x="236.00" y="96.50" font-size="4.6" fill="#222" stroke="#222" stroke-width="0.14" text-anchor="end">0</text>
<line x1="238.00" y1="82.12" x2="240.20" y2="82.12" stroke="#000" stroke-width="0.9"/>
<text x="236.00" y="83.72" font-size="4.6" fill="#222" stroke="#222" stroke-width="0.14" text-anchor="end">20</text>
<line x1="238.00" y1="69.34" x2="240.20" y2="69.34" stroke="#000" stroke-width="0.9"/>
<text x="236.00" y="70.94" font-size="4.6" fill="#222" stroke="#222" stroke-width="0.14" text-anchor="end">40</text>
<line x1="238.00" y1="56.56" x2="240.20" y2="56.56" stroke="#000" stroke-width="0.9"/>
<text x="236.00" y="58.16" font-size="4.6" fill="#222" stroke="#222" stroke-width="0.14" text-anchor="end">60</text>
<line x1="238.00" y1="43.78" x2="240.20" y2="43.78" stroke="#000" stroke-width="0.9"/>
<text x="236.00" y="45.38" font-size="4.6" fill="#222" stroke="#222" stroke-width="0.14" text-anchor="end">80</text>
<line x1="238.00" y1="31.00" x2="240.20" y2="31.00" stroke="#000" stroke-width="0.9"/>
<text x="236.00" y="32.60" font-size="4.6" fill="#222" stroke="#222" stroke-width="0.14" text-anchor="end">100</text>
<text x="222.00" y="62.30" font-size="6.4" fill="#222" stroke="#222" stroke-width="0.16" text-anchor="middle" textLength="56.50" lengthAdjust="spacingAndGlyphs" transform="rotate(-90 222.00 62.30)">Read density (RPM)</text>
<rect x="245.00" y="91.13" width="1.00" height="3.77" fill="#3c3238" stroke="#2a2a2a" stroke-width="0.3"/>
<rect x="246.99" y="88.57" width="1.00" height="6.33" fill="#3c3238" stroke="#2a2a2a" stroke-width="0.3"/>
<rect x="248.98" y="92.02" width="1.00" height="2.88" fill="#3c3238" stroke="#2a2a2a" stroke-width="0.3"/>
<rect x="250.97" y="92.60" width="1.00" height="2.30" fill="#3c3238" stroke="#2a2a2a" stroke-width="0.3"/>
<rect x="252.96" y="91.71" width="1.00" height="3.20" fill="#3c3238" stroke="#2a2a2a" stroke-width="0.3"/>
<rect x="254.95" y="93.17" width="1.00" height="1.73" fill="#444" stroke="#2a2a2a" stroke-width="0.3"/>
<rect x="256.94" y="92.02" width="1.00" height="2.88" fill="#3c3238" stroke="#2a2a2a" stroke-width="0.3"/>
<rect x="258.93" y="89.98" width="1.00" height="4.92" fill="#3c3238" stroke="#2a2a2a" stroke-width="0.3"/>
<rect x="260.92" y="91.71" width="1.00" height="3.20" fill="#3c3238" stroke="#2a2a2a" stroke-width="0.3"/>
<rect x="262.91" y="91.71" width="1.00" height="3.20" fill="#3c3238" stroke="#2a2a2a" stroke-width="0.3"/>
<rect x="264.90" y="92.02" width="1.00" height="2.88" fill="#3c3238" stroke="#2a2a2a" stroke-width="0.3"/>
<rect x="266.99" y="92.66" width="1.00" height="2.24" fill="#3c3238" stroke="#2a2a2a" stroke-width="0.3"/>
<rect x="269.07" y="92.66" width="1.00" height="2.24" fill="#3c3238" stroke="#2a2a2a" stroke-width="0.3"/>
<rect x="271.16" y="92.34" width="1.00" height="2.56" fill="#3c3238" stroke="#2a2a2a" stroke-width="0.3"/>
<rect x="273.25" y="91.39" width="1.00" height="3.51" fill="#3c3238" stroke="#2a2a2a" stroke-width="0.3"/>
<rect x="275.34" y="90.75" width="1.00" height="4.15" fill="#8e1638" stroke="#2a2a2a" stroke-width="0.3"/>
<rect x="277.43" y="86.91" width="1.00" height="7.99" fill="#3a4d82" stroke="#2a2a2a" stroke-width="0.3"/>
<rect x="279.51" y="77.97" width="1.00" height="16.93" fill="#a3bd88" stroke="#2a2a2a" stroke-width="0.3"/>
<rect x="281.60" y="31.00" width="1.00" height="63.90" fill="#8e1638" stroke="#2a2a2a" stroke-width="0.3"/>
<rect x="283.80" y="84.04" width="1.00" height="10.86" fill="#3a4d82" stroke="#2a2a2a" stroke-width="0.3"/>
<rect x="285.88" y="77.65" width="1.00" height="17.25" fill="#a3bd88" stroke="#2a2a2a" stroke-width="0.3"/>
<rect x="287.95" y="47.61" width="1.00" height="47.29" fill="#8e1638" stroke="#2a2a2a" stroke-width="0.3"/>
<rect x="290.02" y="61.03" width="1.00" height="33.87" fill="#3a4d82" stroke="#2a2a2a" stroke-width="0.3"/>
<rect x="292.10" y="62.31" width="1.00" height="32.59" fill="#a3bd88" stroke="#2a2a2a" stroke-width="0.3"/>
<rect x="294.18" y="41.22" width="1.00" height="53.68" fill="#8e1638" stroke="#2a2a2a" stroke-width="0.3"/>
<rect x="296.25" y="63.59" width="1.00" height="31.31" fill="#3a4d82" stroke="#2a2a2a" stroke-width="0.3"/>
<rect x="298.32" y="81.48" width="1.00" height="13.42" fill="#a3bd88" stroke="#2a2a2a" stroke-width="0.3"/>
<rect x="300.40" y="48.25" width="1.00" height="46.65" fill="#8e1638" stroke="#2a2a2a" stroke-width="0.3"/>
<rect x="302.30" y="74.45" width="1.00" height="20.45" fill="#3a4d82" stroke="#2a2a2a" stroke-width="0.3"/>
<rect x="304.20" y="87.23" width="1.00" height="7.67" fill="#a3bd88" stroke="#2a2a2a" stroke-width="0.3"/>
<rect x="308.23" y="89.40" width="1.00" height="5.50" fill="#3a4d82" stroke="#2a2a2a" stroke-width="0.3"/>
<rect x="310.37" y="89.15" width="1.00" height="5.75" fill="#a3bd88" stroke="#2a2a2a" stroke-width="0.3"/>
<rect x="312.50" y="57.84" width="1.00" height="37.06" fill="#8e1638" stroke="#2a2a2a" stroke-width="0.3"/>
<rect x="314.53" y="83.40" width="1.00" height="11.50" fill="#3a4d82" stroke="#2a2a2a" stroke-width="0.3"/>
<rect x="316.57" y="87.55" width="1.00" height="7.35" fill="#a3bd88" stroke="#2a2a2a" stroke-width="0.3"/>
<rect x="318.60" y="75.73" width="1.00" height="19.17" fill="#8e1638" stroke="#2a2a2a" stroke-width="0.3"/>
<rect x="320.63" y="81.48" width="1.00" height="13.42" fill="#3a4d82" stroke="#2a2a2a" stroke-width="0.3"/>
<rect x="322.67" y="86.59" width="1.00" height="8.31" fill="#a3bd88" stroke="#2a2a2a" stroke-width="0.3"/>
<rect x="324.70" y="76.37" width="1.00" height="18.53" fill="#8e1638" stroke="#2a2a2a" stroke-width="0.3"/>
<rect x="326.73" y="84.68" width="1.00" height="10.22" fill="#3a4d82" stroke="#2a2a2a" stroke-width="0.3"/>
<rect x="328.77" y="87.87" width="1.00" height="7.03" fill="#a3bd88" stroke="#2a2a2a" stroke-width="0.3"/>
<rect x="330.80" y="78.93" width="1.00" height="15.97" fill="#8e1638" stroke="#2a2a2a" stroke-width="0.3"/>
<rect x="332.83" y="86.27" width="1.00" height="8.63" fill="#3a4d82" stroke="#2a2a2a" stroke-width="0.3"/>
<rect x="334.87" y="88.51" width="1.00" height="6.39" fill="#a3bd88" stroke="#2a2a2a" stroke-width="0.3"/>
<rect x="336.90" y="80.84" width="1.00" height="14.06" fill="#8e1638" stroke="#2a2a2a" stroke-width="0.3"/>
<rect x="338.93" y="87.23" width="1.00" height="7.67" fill="#3a4d82" stroke="#2a2a2a" stroke-width="0.3"/>
<rect x="340.97" y="89.15" width="1.00" height="5.75" fill="#a3bd88" stroke="#2a2a2a" stroke-width="0.3"/>
<rect x="343.00" y="83.40" width="1.00" height="11.50" fill="#8e1638" stroke="#2a2a2a" stroke-width="0.3"/>
<rect x="345.03" y="89.15" width="1.00" height="5.75" fill="#3a4d82" stroke="#2a2a2a" stroke-width="0.3"/>
<rect x="347.07" y="91.71" width="1.00" height="3.20" fill="#a3bd88" stroke="#2a2a2a" stroke-width="0.3"/>
<rect x="349.10" y="86.27" width="1.00" height="8.63" fill="#8e1638" stroke="#2a2a2a" stroke-width="0.3"/>
<rect x="351.13" y="88.51" width="1.00" height="6.39" fill="#3a4d82" stroke="#2a2a2a" stroke-width="0.3"/>
<rect x="353.17" y="88.51" width="1.00" height="6.39" fill="#a3bd88" stroke="#2a2a2a" stroke-width="0.3"/>
<rect x="355.20" y="84.04" width="1.00" height="10.86" fill="#8e1638" stroke="#2a2a2a" stroke-width="0.3"/>
<rect x="357.23" y="87.23" width="1.00" height="7.67" fill="#3a4d82" stroke="#2a2a2a" stroke-width="0.3"/>
<rect x="359.27" y="87.55" width="1.00" height="7.35" fill="#a3bd88" stroke="#2a2a2a" stroke-width="0.3"/>
<rect x="361.30" y="83.08" width="1.00" height="11.82" fill="#8e1638" stroke="#2a2a2a" stroke-width="0.3"/>
<rect x="363.33" y="90.62" width="1.00" height="4.28" fill="#3a4d82" stroke="#2a2a2a" stroke-width="0.3"/>
<rect x="365.37" y="89.15" width="1.00" height="5.75" fill="#a3bd88" stroke="#2a2a2a" stroke-width="0.3"/>
<rect x="367.40" y="85.31" width="1.00" height="9.59" fill="#8e1638" stroke="#2a2a2a" stroke-width="0.3"/>
<line x1="306.50" y1="32.00" x2="306.50" y2="53.37" stroke="#aaaaaa" stroke-width="0.7" stroke-dasharray="0.8,0.8"/>
<line x1="306.50" y1="53.37" x2="306.50" y2="94.90" stroke="#8e1638" stroke-width="1.0" stroke-dasharray="0.9,0.7"/>
<rect x="382.50" y="71.90" width="1.00" height="23.00" fill="#8e1638" stroke="#2a2a2a" stroke-width="0.3"/>
<rect x="384.56" y="89.98" width="1.00" height="4.92" fill="#3a4d82" stroke="#2a2a2a" stroke-width="0.3"/>
<rect x="386.62" y="88.83" width="1.00" height="6.07" fill="#a3bd88" stroke="#2a2a2a" stroke-width="0.3"/>
<rect x="388.68" y="82.12" width="1.00" height="12.78" fill="#8e1638" stroke="#2a2a2a" stroke-width="0.3"/>
<rect x="390.74" y="87.23" width="1.00" height="7.67" fill="#3a4d82" stroke="#2a2a2a" stroke-width="0.3"/>
<rect x="392.80" y="86.59" width="1.00" height="8.31" fill="#a3bd88" stroke="#2a2a2a" stroke-width="0.3"/>
<rect x="394.86" y="78.93" width="1.00" height="15.97" fill="#8e1638" stroke="#2a2a2a" stroke-width="0.3"/>
<rect x="396.92" y="88.00" width="1.00" height="6.90" fill="#3a4d82" stroke="#2a2a2a" stroke-width="0.3"/>
<rect x="398.98" y="88.19" width="1.00" height="6.71" fill="#a3bd88" stroke="#2a2a2a" stroke-width="0.3"/>
<rect x="401.04" y="76.69" width="1.00" height="18.21" fill="#8e1638" stroke="#2a2a2a" stroke-width="0.3"/>
<rect x="403.10" y="86.91" width="1.00" height="7.99" fill="#3a4d82" stroke="#2a2a2a" stroke-width="0.3"/>
<rect x="405.16" y="88.83" width="1.00" height="6.07" fill="#a3bd88" stroke="#2a2a2a" stroke-width="0.3"/>
<rect x="407.22" y="84.68" width="1.00" height="10.22" fill="#8e1638" stroke="#2a2a2a" stroke-width="0.3"/>
<rect x="409.28" y="85.95" width="1.00" height="8.95" fill="#3a4d82" stroke="#2a2a2a" stroke-width="0.3"/>
<rect x="411.34" y="89.40" width="1.00" height="5.50" fill="#a3bd88" stroke="#2a2a2a" stroke-width="0.3"/>
<rect x="413.40" y="89.40" width="1.00" height="5.50" fill="#8e1638" stroke="#2a2a2a" stroke-width="0.3"/>
<rect x="415.46" y="88.83" width="1.00" height="6.07" fill="#3a4d82" stroke="#2a2a2a" stroke-width="0.3"/>
<rect x="417.52" y="91.07" width="1.00" height="3.83" fill="#a3bd88" stroke="#2a2a2a" stroke-width="0.3"/>
<rect x="419.58" y="91.71" width="1.00" height="3.20" fill="#8e1638" stroke="#2a2a2a" stroke-width="0.3"/>
<rect x="421.64" y="92.02" width="1.00" height="2.88" fill="#3a4d82" stroke="#2a2a2a" stroke-width="0.3"/>
<rect x="423.70" y="92.98" width="1.00" height="1.92" fill="#444" stroke="#2a2a2a" stroke-width="0.3"/>
<rect x="425.76" y="93.30" width="1.00" height="1.60" fill="#444" stroke="#2a2a2a" stroke-width="0.3"/>
<rect x="427.82" y="93.62" width="1.00" height="1.28" fill="#444" stroke="#2a2a2a" stroke-width="0.3"/>
<rect x="429.88" y="93.43" width="1.00" height="1.47" fill="#444" stroke="#2a2a2a" stroke-width="0.3"/>
<rect x="431.94" y="93.43" width="1.00" height="1.47" fill="#444" stroke="#2a2a2a" stroke-width="0.3"/>
<rect x="434.00" y="93.43" width="1.00" height="1.47" fill="#444" stroke="#2a2a2a" stroke-width="0.3"/>
<rect x="436.06" y="93.43" width="1.00" height="1.47" fill="#444" stroke="#2a2a2a" stroke-width="0.3"/>
<rect x="438.12" y="93.43" width="1.00" height="1.47" fill="#444" stroke="#2a2a2a" stroke-width="0.3"/>
<rect x="440.18" y="93.43" width="1.00" height="1.47" fill="#444" stroke="#2a2a2a" stroke-width="0.3"/>
<rect x="442.24" y="93.43" width="1.00" height="1.47" fill="#444" stroke="#2a2a2a" stroke-width="0.3"/>
<rect x="444.30" y="93.43" width="1.00" height="1.47" fill="#444" stroke="#2a2a2a" stroke-width="0.3"/>
<rect x="446.36" y="93.43" width="1.00" height="1.47" fill="#444" stroke="#2a2a2a" stroke-width="0.3"/>
<rect x="448.42" y="93.43" width="1.00" height="1.47" fill="#444" stroke="#2a2a2a" stroke-width="0.3"/>
<rect x="450.48" y="93.43" width="1.00" height="1.47" fill="#444" stroke="#2a2a2a" stroke-width="0.3"/>
<rect x="452.54" y="93.43" width="1.00" height="1.47" fill="#444" stroke="#2a2a2a" stroke-width="0.3"/>
<rect x="454.60" y="93.43" width="1.00" height="1.47" fill="#444" stroke="#2a2a2a" stroke-width="0.3"/>
<rect x="456.66" y="93.43" width="1.00" height="1.47" fill="#444" stroke="#2a2a2a" stroke-width="0.3"/>
<rect x="458.72" y="93.43" width="1.00" height="1.47" fill="#444" stroke="#2a2a2a" stroke-width="0.3"/>
<rect x="460.78" y="93.43" width="1.00" height="1.47" fill="#444" stroke="#2a2a2a" stroke-width="0.3"/>
<rect x="462.84" y="93.43" width="1.00" height="1.47" fill="#444" stroke="#2a2a2a" stroke-width="0.3"/>
<rect x="464.90" y="93.43" width="1.00" height="1.47" fill="#444" stroke="#2a2a2a" stroke-width="0.3"/>
<rect x="466.96" y="93.43" width="1.00" height="1.47" fill="#444" stroke="#2a2a2a" stroke-width="0.3"/>
<rect x="469.02" y="93.43" width="1.00" height="1.47" fill="#444" stroke="#2a2a2a" stroke-width="0.3"/>
<rect x="471.08" y="93.43" width="1.00" height="1.47" fill="#444" stroke="#2a2a2a" stroke-width="0.3"/>
<rect x="473.14" y="93.43" width="1.00" height="1.47" fill="#444" stroke="#2a2a2a" stroke-width="0.3"/>
<rect x="475.20" y="93.43" width="1.00" height="1.47" fill="#444" stroke="#2a2a2a" stroke-width="0.3"/>
<rect x="477.26" y="93.43" width="1.00" height="1.47" fill="#444" stroke="#2a2a2a" stroke-width="0.3"/>
<rect x="479.32" y="93.43" width="1.00" height="1.47" fill="#444" stroke="#2a2a2a" stroke-width="0.3"/>
<rect x="481.38" y="93.43" width="1.00" height="1.47" fill="#444" stroke="#2a2a2a" stroke-width="0.3"/>
<rect x="483.44" y="93.43" width="1.00" height="1.47" fill="#444" stroke="#2a2a2a" stroke-width="0.3"/>
<rect x="485.50" y="93.43" width="1.00" height="1.47" fill="#444" stroke="#2a2a2a" stroke-width="0.3"/>
<rect x="487.56" y="93.43" width="1.00" height="1.47" fill="#444" stroke="#2a2a2a" stroke-width="0.3"/>
<rect x="489.62" y="93.43" width="1.00" height="1.47" fill="#444" stroke="#2a2a2a" stroke-width="0.3"/>
<rect x="491.68" y="93.43" width="1.00" height="1.47" fill="#444" stroke="#2a2a2a" stroke-width="0.3"/>
<rect x="493.74" y="93.43" width="1.00" height="1.47" fill="#444" stroke="#2a2a2a" stroke-width="0.3"/>
<rect x="495.80" y="93.43" width="1.00" height="1.47" fill="#444" stroke="#2a2a2a" stroke-width="0.3"/>
<rect x="497.86" y="93.43" width="1.00" height="1.47" fill="#444" stroke="#2a2a2a" stroke-width="0.3"/>
<rect x="499.92" y="93.43" width="1.00" height="1.47" fill="#444" stroke="#2a2a2a" stroke-width="0.3"/>
<rect x="501.98" y="93.43" width="1.00" height="1.47" fill="#444" stroke="#2a2a2a" stroke-width="0.3"/>
<rect x="504.04" y="93.43" width="1.00" height="1.47" fill="#444" stroke="#2a2a2a" stroke-width="0.3"/>
<rect x="506.10" y="93.43" width="1.00" height="1.47" fill="#444" stroke="#2a2a2a" stroke-width="0.3"/>
<line x1="444.90" y1="32.00" x2="444.90" y2="93.90" stroke="#aaaaaa" stroke-width="0.7" stroke-dasharray="0.8,0.8"/>
<line x1="244.91" y1="94.90" x2="244.91" y2="96.70" stroke="#000" stroke-width="0.8"/>
<text x="244.91" y="103.80" font-size="4.7" fill="#222" stroke="#222" stroke-width="0.06" text-anchor="middle">-30</text>
<line x1="383.00" y1="94.90" x2="383.00" y2="96.70" stroke="#000" stroke-width="0.8"/>
<text x="383.00" y="103.80" font-size="4.7" fill="#222" stroke="#222" stroke-width="0.06" text-anchor="middle">-30</text>
<line x1="265.44" y1="94.90" x2="265.44" y2="96.70" stroke="#000" stroke-width="0.8"/>
<text x="265.44" y="103.80" font-size="4.7" fill="#222" stroke="#222" stroke-width="0.06" text-anchor="middle">-20</text>
<line x1="403.60" y1="94.90" x2="403.60" y2="96.70" stroke="#000" stroke-width="0.8"/>
<text x="403.60" y="103.80" font-size="4.7" fill="#222" stroke="#222" stroke-width="0.06" text-anchor="middle">-20</text>
<line x1="285.97" y1="94.90" x2="285.97" y2="96.70" stroke="#000" stroke-width="0.8"/>
<text x="285.97" y="103.80" font-size="4.7" fill="#222" stroke="#222" stroke-width="0.06" text-anchor="middle">-10</text>
<line x1="424.20" y1="94.90" x2="424.20" y2="96.70" stroke="#000" stroke-width="0.8"/>
<text x="424.20" y="103.80" font-size="4.7" fill="#222" stroke="#222" stroke-width="0.06" text-anchor="middle">-10</text>
<line x1="306.50" y1="94.90" x2="306.50" y2="96.70" stroke="#000" stroke-width="0.8"/>
<text x="306.50" y="103.80" font-size="4.7" fill="#222" stroke="#222" stroke-width="0.06" text-anchor="middle">0</text>
<line x1="444.80" y1="94.90" x2="444.80" y2="96.70" stroke="#000" stroke-width="0.8"/>
<text x="444.80" y="103.80" font-size="4.7" fill="#222" stroke="#222" stroke-width="0.06" text-anchor="middle">0</text>
<line x1="327.03" y1="94.90" x2="327.03" y2="96.70" stroke="#000" stroke-width="0.8"/>
<text x="327.03" y="103.80" font-size="4.7" fill="#222" stroke="#222" stroke-width="0.06" text-anchor="middle">10</text>
<line x1="465.40" y1="94.90" x2="465.40" y2="96.70" stroke="#000" stroke-width="0.8"/>
<text x="465.40" y="103.80" font-size="4.7" fill="#222" stroke="#222" stroke-width="0.06" text-anchor="middle">10</text>
<line x1="347.56" y1="94.90" x2="347.56" y2="96.70" stroke="#000" stroke-width="0.8"/>
<text x="347.56" y="103.80" font-size="4.7" fill="#222" stroke="#222" stroke-width="0.06" text-anchor="middle">20</text>
<line x1="486.00" y1="94.90" x2="486.00" y2="96.70" stroke="#000" stroke-width="0.8"/>
<text x="486.00" y="103.80" font-size="4.7" fill="#222" stroke="#222" stroke-width="0.06" text-anchor="middle">20</text>
<line x1="368.09" y1="94.90" x2="368.09" y2="96.70" stroke="#000" stroke-width="0.8"/>
<text x="368.09" y="103.80" font-size="4.7" fill="#222" stroke="#222" stroke-width="0.06" text-anchor="middle">30</text>
<line x1="506.60" y1="94.90" x2="506.60" y2="96.70" stroke="#000" stroke-width="0.8"/>
<text x="506.60" y="103.80" font-size="4.7" fill="#222" stroke="#222" stroke-width="0.06" text-anchor="middle">30</text>
<text x="272.80" y="112.40" font-size="6.5" fill="#222" stroke="#222" stroke-width="0.16" textLength="68.80" lengthAdjust="spacingAndGlyphs">Distance from CDS start</text>
<text x="411.40" y="112.60" font-size="6.4" fill="#222" stroke="#222" stroke-width="0.16" textLength="65.80" lengthAdjust="spacingAndGlyphs">Distance from CDS end</text>
<rect x="415.70" y="36.30" width="4.10" height="4.30" fill="#8e1533"/>
<rect x="415.70" y="42.20" width="4.10" height="4.20" fill="#263f6c"/>
<rect x="415.70" y="48.60" width="4.10" height="4.00" fill="#6a9d4c"/>
<text x="422.00" y="40.20" font-size="3.9" fill="#222" stroke="#222" stroke-width="0.05" textLength="15.00" lengthAdjust="spacingAndGlyphs">Frame 1</text>
<text x="422.00" y="46.10" font-size="3.9" fill="#222" stroke="#222" stroke-width="0.05" textLength="15.00" lengthAdjust="spacingAndGlyphs">Frame 2</text>
<text x="422.00" y="52.20" font-size="3.9" fill="#222" stroke="#222" stroke-width="0.05" textLength="15.00" lengthAdjust="spacingAndGlyphs">Frame 3</text>
<ellipse cx="477.80" cy="67.00" rx="11.90" ry="5.60" fill="#97c3b8"/>
<ellipse cx="477.90" cy="57.20" rx="12.80" ry="7.20" fill="#aad0c8"/>
<rect x="470.40" y="55.30" width="16.30" height="6.80" fill="#5f9a90" rx="0.6"/>
<text x="473.30" y="60.40" font-size="3.4" fill="#d4eee8" text-anchor="middle" font-weight="bold">E</text>
<text x="478.40" y="60.40" font-size="3.4" fill="#d4eee8" text-anchor="middle" font-weight="bold">P</text>
<text x="483.50" y="60.40" font-size="3.4" fill="#d4eee8" text-anchor="middle" font-weight="bold">A</text>
<path d="M457.9,74.5 C466.5,58.8 489.0,58.8 499.7,75.5" fill="none" stroke="#4e4e4e" stroke-width="1.2"/>
<line x1="465.10" y1="47.80" x2="465.10" y2="74.20" stroke="#c8a8a8" stroke-width="0.4" stroke-dasharray="0.6,0.6"/>
<line x1="490.50" y1="47.80" x2="490.50" y2="74.20" stroke="#c8a8a8" stroke-width="0.4" stroke-dasharray="0.6,0.6"/>
<line x1="477.80" y1="46.90" x2="467.50" y2="46.90" stroke="#000" stroke-width="1.0"/>
<polygon points="465.00,46.90 467.80,45.50 467.80,48.30" fill="#000"/>
<line x1="477.80" y1="46.90" x2="487.80" y2="46.90" stroke="#000" stroke-width="1.0"/>
<polygon points="490.30,46.90 487.50,48.30 487.50,45.50" fill="#000"/>
<text x="473.80" y="45.10" font-size="3.2" fill="#222" stroke="#222" stroke-width="0.16" textLength="6.80" lengthAdjust="spacingAndGlyphs">28 nt</text>
<text x="218.20" y="131.30" font-size="10.2" fill="#000" stroke="#000" stroke-width="0.2" font-weight="bold">E</text>
<text x="333.70" y="142.60" font-size="5.8" fill="#222" stroke="#222" stroke-width="0.16" textLength="14.80" lengthAdjust="spacingAndGlyphs">0.5kb</text>
<line x1="353.60" y1="141.20" x2="416.90" y2="141.20" stroke="#000" stroke-width="1.3"/>
<line x1="353.60" y1="139.50" x2="353.60" y2="143.00" stroke="#111" stroke-width="0.9"/>
<line x1="416.90" y1="139.50" x2="416.90" y2="143.00" stroke="#111" stroke-width="0.9"/>
<line x1="282.80" y1="136.00" x2="282.80" y2="398.80" stroke="#c4a072" stroke-width="1.4"/>
<line x1="243.40" y1="150.10" x2="243.40" y2="283.00" stroke="#65523f" stroke-width="1.4"/>
<line x1="243.10" y1="287.00" x2="243.10" y2="420.20" stroke="#4a5a88" stroke-width="1.4"/>
<text x="237.20" y="217.00" font-size="7.0" fill="#6e5a46" stroke="#6e5a46" stroke-width="0.16" text-anchor="middle" textLength="28.40" lengthAdjust="spacingAndGlyphs" transform="rotate(-90 237.20 217.00)">Ribo-seq</text>
<text x="237.00" y="354.10" font-size="7.0" fill="#4a5a88" stroke="#4a5a88" stroke-width="0.16" text-anchor="middle" textLength="28.80" lengthAdjust="spacingAndGlyphs" transform="rotate(-90 237.00 354.10)">RNA-seq</text>
<text x="280.80" y="151.20" font-size="5.0" fill="#6e6050" stroke="#6e6050" stroke-width="0.12" text-anchor="end" textLength="14.00" lengthAdjust="spacingAndGlyphs">20000</text>
<text x="280.80" y="168.50" font-size="5.0" fill="#6e6050" stroke="#6e6050" stroke-width="0.12" text-anchor="end" textLength="14.00" lengthAdjust="spacingAndGlyphs">20000</text>
<line x1="281.00" y1="149.40" x2="282.90" y2="149.40" stroke="#6e6050" stroke-width="0.6"/>
<line x1="281.00" y1="166.70" x2="282.90" y2="166.70" stroke="#6e6050" stroke-width="0.6"/>
<text x="277.90" y="161.10" font-size="4.6" fill="#6e6050" stroke="#6e6050" stroke-width="0.12" text-anchor="middle">1</text>
<text x="277.90" y="178.10" font-size="4.6" fill="#6e6050" stroke="#6e6050" stroke-width="0.12" text-anchor="middle">1</text>
<text x="261.80" y="159.20" font-size="4.0" fill="#333" stroke="#333" stroke-width="0.16" text-anchor="middle">+</text>
<text x="261.80" y="177.20" font-size="5.0" fill="#333" stroke="#333" stroke-width="0.16" text-anchor="middle">–</text>
<text x="248.10" y="169.40" font-size="6.6" fill="#7a6e60" stroke="#7a6e60" stroke-width="0.06">0h</text>
<text x="280.80" y="185.50" font-size="5.0" fill="#6e6050" stroke="#6e6050" stroke-width="0.12" text-anchor="end" textLength="14.00" lengthAdjust="spacingAndGlyphs">20000</text>
<text x="280.80" y="202.80" font-size="5.0" fill="#6e6050" stroke="#6e6050" stroke-width="0.12" text-anchor="end" textLength="14.00" lengthAdjust="spacingAndGlyphs">20000</text>
<line x1="281.00" y1="183.70" x2="282.90" y2="183.70" stroke="#6e6050" stroke-width="0.6"/>
<line x1="281.00" y1="201.00" x2="282.90" y2="201.00" stroke="#6e6050" stroke-width="0.6"/>
<text x="277.90" y="195.40" font-size="4.6" fill="#6e6050" stroke="#6e6050" stroke-width="0.12" text-anchor="middle">1</text>
<text x="277.90" y="212.40" font-size="4.6" fill="#6e6050" stroke="#6e6050" stroke-width="0.12" text-anchor="middle">1</text>
<text x="261.80" y="193.50" font-size="4.0" fill="#333" stroke="#333" stroke-width="0.16" text-anchor="middle">+</text>
<text x="261.80" y="211.50" font-size="5.0" fill="#333" stroke="#333" stroke-width="0.16" text-anchor="middle">–</text>
<text x="248.10" y="203.70" font-size="6.6" fill="#7a6e60" stroke="#7a6e60" stroke-width="0.06">24h</text>
<text x="280.80" y="219.80" font-size="5.0" fill="#6e6050" stroke="#6e6050" stroke-width="0.12" text-anchor="end" textLength="14.00" lengthAdjust="spacingAndGlyphs">20000</text>
<text x="280.80" y="237.10" font-size="5.0" fill="#6e6050" stroke="#6e6050" stroke-width="0.12" text-anchor="end" textLength="14.00" lengthAdjust="spacingAndGlyphs">20000</text>
<line x1="281.00" y1="218.00" x2="282.90" y2="218.00" stroke="#6e6050" stroke-width="0.6"/>
<line x1="281.00" y1="235.30" x2="282.90" y2="235.30" stroke="#6e6050" stroke-width="0.6"/>
<text x="277.90" y="229.70" font-size="4.6" fill="#6e6050" stroke="#6e6050" stroke-width="0.12" text-anchor="middle">1</text>
<text x="277.90" y="246.70" font-size="4.6" fill="#6e6050" stroke="#6e6050" stroke-width="0.12" text-anchor="middle">1</text>
<text x="261.80" y="227.80" font-size="4.0" fill="#333" stroke="#333" stroke-width="0.16" text-anchor="middle">+</text>
<text x="261.80" y="245.80" font-size="5.0" fill="#333" stroke="#333" stroke-width="0.16" text-anchor="middle">–</text>
<text x="248.10" y="238.00" font-size="6.6" fill="#7a6e60" stroke="#7a6e60" stroke-width="0.06">33h</text>
<text x="280.80" y="254.10" font-size="5.0" fill="#6e6050" stroke="#6e6050" stroke-width="0.12" text-anchor="end" textLength="14.00" lengthAdjust="spacingAndGlyphs">20000</text>
<text x="280.80" y="271.40" font-size="5.0" fill="#6e6050" stroke="#6e6050" stroke-width="0.12" text-anchor="end" textLength="14.00" lengthAdjust="spacingAndGlyphs">20000</text>
<line x1="281.00" y1="252.30" x2="282.90" y2="252.30" stroke="#6e6050" stroke-width="0.6"/>
<line x1="281.00" y1="269.60" x2="282.90" y2="269.60" stroke="#6e6050" stroke-width="0.6"/>
<text x="277.90" y="264.00" font-size="4.6" fill="#6e6050" stroke="#6e6050" stroke-width="0.12" text-anchor="middle">1</text>
<text x="277.90" y="281.00" font-size="4.6" fill="#6e6050" stroke="#6e6050" stroke-width="0.12" text-anchor="middle">1</text>
<text x="261.80" y="262.10" font-size="4.0" fill="#333" stroke="#333" stroke-width="0.16" text-anchor="middle">+</text>
<text x="261.80" y="280.10" font-size="5.0" fill="#333" stroke="#333" stroke-width="0.16" text-anchor="middle">–</text>
<text x="248.10" y="272.30" font-size="6.6" fill="#7a6e60" stroke="#7a6e60" stroke-width="0.06">48h</text>
<text x="280.80" y="288.00" font-size="5.0" fill="#56648a" stroke="#56648a" stroke-width="0.12" text-anchor="end" textLength="14.00" lengthAdjust="spacingAndGlyphs">12500</text>
<text x="280.80" y="305.30" font-size="5.0" fill="#56648a" stroke="#56648a" stroke-width="0.12" text-anchor="end" textLength="14.00" lengthAdjust="spacingAndGlyphs">12500</text>
<line x1="281.00" y1="286.20" x2="282.90" y2="286.20" stroke="#56648a" stroke-width="0.6"/>
<line x1="281.00" y1="303.50" x2="282.90" y2="303.50" stroke="#56648a" stroke-width="0.6"/>
<text x="277.90" y="298.50" font-size="4.6" fill="#56648a" stroke="#56648a" stroke-width="0.12" text-anchor="middle">1</text>
<text x="277.90" y="315.20" font-size="4.6" fill="#56648a" stroke="#56648a" stroke-width="0.12" text-anchor="middle">1</text>
<text x="261.80" y="295.10" font-size="4.0" fill="#333" stroke="#333" stroke-width="0.16" text-anchor="middle">+</text>
<text x="261.80" y="313.80" font-size="5.0" fill="#333" stroke="#333" stroke-width="0.16" text-anchor="middle">–</text>
<text x="248.40" y="306.20" font-size="6.6" fill="#4a5888" stroke="#4a5888" stroke-width="0.08">0h</text>
<text x="280.80" y="322.30" font-size="5.0" fill="#56648a" stroke="#56648a" stroke-width="0.12" text-anchor="end" textLength="14.00" lengthAdjust="spacingAndGlyphs">12500</text>
<text x="280.80" y="339.60" font-size="5.0" fill="#56648a" stroke="#56648a" stroke-width="0.12" text-anchor="end" textLength="14.00" lengthAdjust="spacingAndGlyphs">12500</text>
<line x1="281.00" y1="320.50" x2="282.90" y2="320.50" stroke="#56648a" stroke-width="0.6"/>
<line x1="281.00" y1="337.80" x2="282.90" y2="337.80" stroke="#56648a" stroke-width="0.6"/>
<text x="277.90" y="332.80" font-size="4.6" fill="#56648a" stroke="#56648a" stroke-width="0.12" text-anchor="middle">1</text>
<text x="277.90" y="349.50" font-size="4.6" fill="#56648a" stroke="#56648a" stroke-width="0.12" text-anchor="middle">1</text>
<text x="261.80" y="329.40" font-size="4.0" fill="#333" stroke="#333" stroke-width="0.16" text-anchor="middle">+</text>
<text x="261.80" y="348.10" font-size="5.0" fill="#333" stroke="#333" stroke-width="0.16" text-anchor="middle">–</text>
<text x="248.40" y="340.50" font-size="6.6" fill="#4a5888" stroke="#4a5888" stroke-width="0.08">24h</text>
<text x="280.80" y="356.60" font-size="5.0" fill="#56648a" stroke="#56648a" stroke-width="0.12" text-anchor="end" textLength="14.00" lengthAdjust="spacingAndGlyphs">12500</text>
<text x="280.80" y="373.90" font-size="5.0" fill="#56648a" stroke="#56648a" stroke-width="0.12" text-anchor="end" textLength="14.00" lengthAdjust="spacingAndGlyphs">12500</text>
<line x1="281.00" y1="354.80" x2="282.90" y2="354.80" stroke="#56648a" stroke-width="0.6"/>
<line x1="281.00" y1="372.10" x2="282.90" y2="372.10" stroke="#56648a" stroke-width="0.6"/>
<text x="277.90" y="367.10" font-size="4.6" fill="#56648a" stroke="#56648a" stroke-width="0.12" text-anchor="middle">1</text>
<text x="277.90" y="383.80" font-size="4.6" fill="#56648a" stroke="#56648a" stroke-width="0.12" text-anchor="middle">1</text>
<text x="261.80" y="363.70" font-size="4.0" fill="#333" stroke="#333" stroke-width="0.16" text-anchor="middle">+</text>
<text x="261.80" y="382.40" font-size="5.0" fill="#333" stroke="#333" stroke-width="0.16" text-anchor="middle">–</text>
<text x="248.40" y="374.80" font-size="6.6" fill="#4a5888" stroke="#4a5888" stroke-width="0.08">33h</text>
<text x="280.80" y="390.90" font-size="5.0" fill="#56648a" stroke="#56648a" stroke-width="0.12" text-anchor="end" textLength="14.00" lengthAdjust="spacingAndGlyphs">12500</text>
<text x="280.80" y="408.20" font-size="5.0" fill="#56648a" stroke="#56648a" stroke-width="0.12" text-anchor="end" textLength="14.00" lengthAdjust="spacingAndGlyphs">12500</text>
<line x1="281.00" y1="389.10" x2="282.90" y2="389.10" stroke="#56648a" stroke-width="0.6"/>
<line x1="281.00" y1="406.40" x2="282.90" y2="406.40" stroke="#56648a" stroke-width="0.6"/>
<text x="277.90" y="401.40" font-size="4.6" fill="#56648a" stroke="#56648a" stroke-width="0.12" text-anchor="middle">1</text>
<text x="277.90" y="418.10" font-size="4.6" fill="#56648a" stroke="#56648a" stroke-width="0.12" text-anchor="middle">1</text>
<text x="261.80" y="398.00" font-size="4.0" fill="#333" stroke="#333" stroke-width="0.16" text-anchor="middle">+</text>
<text x="261.80" y="416.70" font-size="5.0" fill="#333" stroke="#333" stroke-width="0.16" text-anchor="middle">–</text>
<text x="248.40" y="409.10" font-size="6.6" fill="#4a5888" stroke="#4a5888" stroke-width="0.08">48h</text>
<line x1="296.00" y1="180.90" x2="312.00" y2="180.90" stroke="#8f8a86" stroke-width="0.9"/>
<line x1="312.00" y1="180.90" x2="338.60" y2="180.90" stroke="#7c7066" stroke-width="0.9"/>
<line x1="407.50" y1="180.90" x2="448.70" y2="180.90" stroke="#7c7066" stroke-width="0.9"/>
<line x1="450.80" y1="180.90" x2="477.30" y2="180.90" stroke="#7c7066" stroke-width="0.9"/>
<line x1="344.00" y1="180.90" x2="347.50" y2="180.90" stroke="#ac2a6e" stroke-width="0.9"/>
<line x1="385.30" y1="180.90" x2="389.50" y2="180.90" stroke="#ac2a6e" stroke-width="0.9"/>
<line x1="393.70" y1="180.90" x2="398.00" y2="180.90" stroke="#ac2a6e" stroke-width="0.9"/>
<line x1="402.20" y1="180.90" x2="407.50" y2="180.90" stroke="#ac2a6e" stroke-width="0.9"/>
<line x1="480.40" y1="180.90" x2="485.70" y2="180.90" stroke="#ac2a6e" stroke-width="0.9"/>
<path d="M312.50,181.20 L312.50,181.20 L314.00,180.40 L316.00,180.30 L318.00,179.80 L320.00,179.00 L322.00,178.80 L324.00,179.70 L326.00,180.00 L328.00,180.60 L330.50,180.40 L331.50,181.20 L331.50,181.20 Z" fill="#3e2c1c"/>
<path d="M411.20,181.20 L411.20,181.20 L412.50,180.00 L415.00,179.70 L418.00,179.80 L421.00,180.00 L424.00,180.30 L425.60,181.20 L425.60,181.20 Z" fill="#3e2c1c"/>
<path d="M430.60,181.20 L430.60,181.20 L432.00,180.30 L434.00,179.80 L436.30,181.20 L436.30,181.20 Z" fill="#3e2c1c"/>
<path d="M461.50,181.20 L461.50,181.20 L462.80,179.60 L464.20,178.80 L465.60,180.20 L466.50,181.20 L466.50,181.20 Z" fill="#3e2c1c"/>
<line x1="296.00" y1="214.90" x2="312.00" y2="214.90" stroke="#8f8a86" stroke-width="0.9"/>
<line x1="312.00" y1="214.90" x2="338.60" y2="214.90" stroke="#7c7066" stroke-width="0.9"/>
<line x1="407.50" y1="214.90" x2="448.70" y2="214.90" stroke="#7c7066" stroke-width="0.9"/>
<line x1="450.80" y1="214.90" x2="477.30" y2="214.90" stroke="#7c7066" stroke-width="0.9"/>
<line x1="344.00" y1="214.90" x2="347.50" y2="214.90" stroke="#ac2a6e" stroke-width="0.9"/>
<line x1="385.30" y1="214.90" x2="389.50" y2="214.90" stroke="#ac2a6e" stroke-width="0.9"/>
<line x1="393.70" y1="214.90" x2="398.00" y2="214.90" stroke="#ac2a6e" stroke-width="0.9"/>
<line x1="402.20" y1="214.90" x2="407.50" y2="214.90" stroke="#ac2a6e" stroke-width="0.9"/>
<line x1="480.40" y1="214.90" x2="485.70" y2="214.90" stroke="#ac2a6e" stroke-width="0.9"/>
<path d="M312.50,215.20 L312.50,215.20 L314.00,214.40 L316.00,214.30 L318.00,213.80 L320.00,213.00 L322.00,212.80 L324.00,213.70 L326.00,214.00 L328.00,214.60 L330.50,214.40 L331.50,215.20 L331.50,215.20 Z" fill="#3e2c1c"/>
<path d="M411.20,215.20 L411.20,215.20 L412.50,214.00 L415.00,213.70 L418.00,213.80 L421.00,214.00 L424.00,214.30 L425.60,215.20 L425.60,215.20 Z" fill="#3e2c1c"/>
<path d="M430.60,215.20 L430.60,215.20 L432.00,214.30 L434.00,213.80 L436.30,215.20 L436.30,215.20 Z" fill="#3e2c1c"/>
<path d="M461.50,215.20 L461.50,215.20 L462.80,213.60 L464.20,212.80 L465.60,214.20 L466.50,215.20 L466.50,215.20 Z" fill="#3e2c1c"/>
<line x1="296.00" y1="249.10" x2="336.00" y2="249.10" stroke="#5e5046" stroke-width="0.9"/>
<line x1="439.40" y1="249.10" x2="453.20" y2="249.10" stroke="#5e5046" stroke-width="0.9"/>
<line x1="470.00" y1="249.10" x2="486.00" y2="249.10" stroke="#5e5046" stroke-width="0.9"/>
<line x1="334.00" y1="249.10" x2="337.60" y2="249.10" stroke="#ac2a6e" stroke-width="1.0"/>
<line x1="369.30" y1="249.10" x2="376.70" y2="249.10" stroke="#ac2a6e" stroke-width="1.0"/>
<line x1="383.40" y1="249.10" x2="411.80" y2="249.10" stroke="#ac2a6e" stroke-width="1.0"/>
<line x1="446.70" y1="249.10" x2="450.20" y2="249.10" stroke="#ac2a6e" stroke-width="1.0"/>
<line x1="473.80" y1="249.10" x2="480.80" y2="249.10" stroke="#ac2a6e" stroke-width="1.0"/>
<path d="M311.73,249.10 L311.73,249.10 L312.40,246.07 L313.75,243.72 L315.09,242.03 L316.10,243.04 L317.45,244.73 L318.46,244.73 L319.80,243.72 L321.15,241.36 L322.16,238.67 L323.03,237.32 L323.84,239.01 L324.85,242.03 L325.86,245.40 L326.87,247.75 L327.88,246.41 L328.55,242.71 L328.89,242.37 L329.23,248.09 L329.43,249.10 L329.43,249.10 Z" fill="#6d461c"/>
<path d="M411.77,249.10 L411.77,249.10 L412.08,240.64 L412.31,239.87 L413.46,237.56 L415.00,239.10 L418.85,240.25 L420.77,239.87 L421.54,237.56 L423.46,237.41 L424.62,239.10 L425.38,242.56 L426.54,244.48 L428.08,244.10 L429.23,241.41 L430.38,238.33 L431.54,236.02 L432.31,234.87 L433.08,236.02 L434.23,233.56 L435.00,234.10 L435.77,236.41 L436.54,237.56 L437.31,239.87 L438.08,242.18 L438.85,246.02 L439.23,249.10 L439.23,249.10 Z" fill="#6d461c"/>
<path d="M453.23,249.10 L453.23,249.10 L453.54,246.02 L454.15,245.64 L455.31,246.41 L455.69,248.48 L459.15,248.72 L459.69,246.79 L461.08,242.18 L461.85,236.02 L463.00,233.33 L464.54,233.72 L465.31,236.02 L466.08,239.10 L466.69,246.79 L467.23,247.95 L469.54,248.18 L471.08,248.72 L471.23,249.10 L471.23,249.10 Z" fill="#6d461c"/>
<line x1="419.30" y1="232.30" x2="423.30" y2="232.30" stroke="#6d461c" stroke-width="1.0"/>
<line x1="482.40" y1="245.40" x2="482.40" y2="249.10" stroke="#7a6a60" stroke-width="0.6"/>
<line x1="296.00" y1="283.20" x2="334.80" y2="283.20" stroke="#5e5046" stroke-width="0.9"/>
<line x1="383.00" y1="283.20" x2="411.80" y2="283.20" stroke="#5e5046" stroke-width="0.9"/>
<line x1="439.40" y1="283.20" x2="453.20" y2="283.20" stroke="#5e5046" stroke-width="0.9"/>
<line x1="470.00" y1="283.20" x2="486.00" y2="283.20" stroke="#5e5046" stroke-width="0.9"/>
<line x1="355.00" y1="283.20" x2="359.60" y2="283.20" stroke="#ac2a6e" stroke-width="1.0"/>
<line x1="364.60" y1="283.20" x2="368.00" y2="283.20" stroke="#ac2a6e" stroke-width="1.0"/>
<line x1="370.10" y1="283.20" x2="373.30" y2="283.20" stroke="#ac2a6e" stroke-width="1.0"/>
<line x1="376.70" y1="283.20" x2="380.20" y2="283.20" stroke="#ac2a6e" stroke-width="1.0"/>
<line x1="385.40" y1="283.20" x2="389.00" y2="283.20" stroke="#ac2a6e" stroke-width="1.0"/>
<line x1="392.00" y1="283.20" x2="396.00" y2="283.20" stroke="#ac2a6e" stroke-width="1.0"/>
<line x1="399.00" y1="283.20" x2="403.00" y2="283.20" stroke="#ac2a6e" stroke-width="1.0"/>
<line x1="445.00" y1="283.20" x2="450.80" y2="283.20" stroke="#ac2a6e" stroke-width="1.0"/>
<line x1="475.60" y1="283.20" x2="481.90" y2="283.20" stroke="#ac2a6e" stroke-width="1.0"/>
<path d="M311.73,283.20 L311.73,283.20 L312.74,279.50 L314.08,276.81 L315.09,275.46 L316.10,276.81 L317.11,278.83 L318.46,277.82 L319.80,276.13 L321.49,273.44 L322.63,271.09 L323.51,272.10 L324.52,274.79 L325.52,277.82 L326.53,280.51 L327.54,280.84 L328.55,277.48 L329.09,277.14 L329.36,282.19 L329.56,283.20 L329.56,283.20 Z" fill="#6d461c"/>
<path d="M411.77,283.20 L411.77,283.20 L412.08,273.82 L412.69,273.05 L413.85,272.12 L415.77,272.66 L418.08,274.20 L420.00,274.97 L421.15,273.82 L422.69,273.66 L424.23,274.97 L425.38,277.66 L426.54,279.20 L428.08,277.66 L429.62,274.58 L431.15,272.28 L432.31,270.35 L433.08,271.12 L434.62,269.20 L435.38,269.97 L436.54,273.05 L437.69,274.97 L438.85,279.20 L439.23,283.20 L439.23,283.20 Z" fill="#6d461c"/>
<path d="M453.23,283.20 L453.23,283.20 L453.54,280.35 L454.15,279.97 L455.31,281.12 L455.69,282.66 L459.15,282.89 L459.69,280.74 L461.46,274.97 L462.00,268.43 L462.46,267.28 L466.31,267.28 L466.62,271.51 L466.92,280.35 L467.62,280.58 L469.54,281.12 L471.08,282.66 L471.23,283.20 L471.23,283.20 Z" fill="#6d461c"/>
<line x1="326.00" y1="266.30" x2="329.00" y2="266.30" stroke="#6d461c" stroke-width="1.0"/>
<line x1="482.40" y1="276.00" x2="482.40" y2="283.20" stroke="#7a6a60" stroke-width="0.6"/>
<line x1="283.50" y1="317.40" x2="296.40" y2="317.40" stroke="#ac2a6e" stroke-width="1.1"/>
<line x1="296.40" y1="317.40" x2="399.00" y2="317.40" stroke="#46527a" stroke-width="0.9"/>
<line x1="283.50" y1="351.50" x2="296.40" y2="351.50" stroke="#ac2a6e" stroke-width="1.1"/>
<line x1="296.40" y1="351.50" x2="483.60" y2="351.50" stroke="#46527a" stroke-width="0.9"/>
<line x1="283.50" y1="385.50" x2="296.40" y2="385.50" stroke="#ac2a6e" stroke-width="1.1"/>
<line x1="296.40" y1="385.50" x2="483.60" y2="385.50" stroke="#46527a" stroke-width="0.9"/>
<line x1="283.50" y1="419.70" x2="296.40" y2="419.70" stroke="#ac2a6e" stroke-width="1.1"/>
<line x1="296.40" y1="419.70" x2="483.60" y2="419.70" stroke="#46527a" stroke-width="0.9"/>
<line x1="399.00" y1="317.40" x2="483.60" y2="317.40" stroke="#46527a" stroke-width="0.9"/>
<line x1="400.00" y1="317.40" x2="402.00" y2="317.40" stroke="#ac2a6e" stroke-width="0.9"/>
<line x1="424.00" y1="317.40" x2="428.00" y2="317.40" stroke="#ac2a6e" stroke-width="0.9"/>
<line x1="468.00" y1="317.40" x2="472.00" y2="317.40" stroke="#ac2a6e" stroke-width="0.9"/>
<line x1="475.00" y1="317.40" x2="484.00" y2="317.40" stroke="#ac2a6e" stroke-width="0.9"/>
<line x1="400.00" y1="351.50" x2="404.00" y2="351.50" stroke="#ac2a6e" stroke-width="0.9"/>
<line x1="470.60" y1="351.50" x2="483.60" y2="351.50" stroke="#ac2a6e" stroke-width="0.9"/>
<line x1="403.00" y1="385.50" x2="407.00" y2="385.50" stroke="#ac2a6e" stroke-width="0.9"/>
<line x1="470.60" y1="385.50" x2="483.60" y2="385.50" stroke="#ac2a6e" stroke-width="0.9"/>
<line x1="403.00" y1="419.70" x2="407.00" y2="419.70" stroke="#ac2a6e" stroke-width="0.9"/>
<line x1="470.60" y1="419.70" x2="483.60" y2="419.70" stroke="#ac2a6e" stroke-width="0.9"/>
<path d="M297.30,317.40 L297.30,317.40 L299.00,315.80 L301.50,315.80 L303.00,317.40 L303.00,317.40 Z" fill="#2c4a85"/>
<path d="M313.50,317.40 L313.50,317.40 L315.50,316.20 L318.00,317.40 L318.00,317.40 Z" fill="#2c4a85"/>
<path d="M323.90,317.40 L323.90,317.40 L326.00,315.90 L329.00,317.40 L329.00,317.40 Z" fill="#2c4a85"/>
<path d="M411.50,317.40 L411.50,317.40 L415.00,316.40 L420.00,316.20 L425.00,316.60 L430.00,316.20 L436.00,316.80 L439.00,317.40 L439.00,317.40 Z" fill="#2c4a85"/>
<path d="M454.00,317.40 L454.00,317.40 L456.50,315.90 L459.00,317.40 L459.00,317.40 Z" fill="#2c4a85"/>
<line x1="311.20" y1="300.70" x2="327.30" y2="300.70" stroke="#46527a" stroke-width="0.7"/>
<line x1="306.50" y1="300.70" x2="311.20" y2="300.70" stroke="#ac2a6e" stroke-width="1.1"/>
<line x1="331.30" y1="300.70" x2="336.60" y2="300.70" stroke="#ac2a6e" stroke-width="1.1"/>
<line x1="352.00" y1="300.70" x2="356.70" y2="300.70" stroke="#ac2a6e" stroke-width="1.1"/>
<line x1="364.30" y1="300.70" x2="369.60" y2="300.70" stroke="#ac2a6e" stroke-width="1.1"/>
<line x1="375.00" y1="300.70" x2="380.50" y2="300.70" stroke="#ac2a6e" stroke-width="1.1"/>
<line x1="411.30" y1="300.70" x2="439.40" y2="300.70" stroke="#ac2a6e" stroke-width="0.9"/>
<line x1="450.30" y1="300.70" x2="474.50" y2="300.70" stroke="#ac2a6e" stroke-width="0.9"/>
<line x1="310.00" y1="334.50" x2="328.50" y2="334.50" stroke="#46527a" stroke-width="0.7"/>
<line x1="300.80" y1="334.50" x2="310.00" y2="334.50" stroke="#ac2a6e" stroke-width="1.1"/>
<line x1="332.00" y1="334.50" x2="336.60" y2="334.50" stroke="#ac2a6e" stroke-width="1.1"/>
<line x1="344.20" y1="334.50" x2="352.00" y2="334.50" stroke="#ac2a6e" stroke-width="1.1"/>
<line x1="359.70" y1="334.50" x2="365.00" y2="334.50" stroke="#ac2a6e" stroke-width="1.1"/>
<line x1="388.50" y1="334.50" x2="393.60" y2="334.50" stroke="#ac2a6e" stroke-width="1.1"/>
<line x1="411.30" y1="334.50" x2="439.40" y2="334.50" stroke="#ac2a6e" stroke-width="0.9"/>
<line x1="450.30" y1="334.50" x2="474.50" y2="334.50" stroke="#ac2a6e" stroke-width="0.9"/>
<line x1="482.30" y1="332.50" x2="482.30" y2="334.50" stroke="#777" stroke-width="0.5"/>
<line x1="300.00" y1="368.90" x2="329.70" y2="368.90" stroke="#46527a" stroke-width="0.7"/>
<line x1="330.80" y1="368.90" x2="350.40" y2="368.90" stroke="#ac2a6e" stroke-width="1.1"/>
<line x1="367.80" y1="368.90" x2="372.40" y2="368.90" stroke="#ac2a6e" stroke-width="1.1"/>
<line x1="392.00" y1="368.90" x2="396.60" y2="368.90" stroke="#ac2a6e" stroke-width="1.1"/>
<line x1="447.20" y1="368.90" x2="479.70" y2="368.90" stroke="#ac2a6e" stroke-width="0.9"/>
<line x1="411.30" y1="368.90" x2="439.40" y2="368.90" stroke="#46527a" stroke-width="0.7"/>
<line x1="308.90" y1="402.80" x2="329.70" y2="402.80" stroke="#46527a" stroke-width="0.7"/>
<line x1="298.50" y1="402.80" x2="308.90" y2="402.80" stroke="#ac2a6e" stroke-width="1.1"/>
<line x1="332.00" y1="402.80" x2="336.60" y2="402.80" stroke="#ac2a6e" stroke-width="1.1"/>
<line x1="344.70" y1="402.80" x2="350.40" y2="402.80" stroke="#ac2a6e" stroke-width="1.1"/>
<line x1="411.30" y1="402.80" x2="439.40" y2="402.80" stroke="#46527a" stroke-width="0.7"/>
<line x1="450.30" y1="402.80" x2="482.00" y2="402.80" stroke="#ac2a6e" stroke-width="0.9"/>
<path d="M297.23,351.40 L297.23,351.40 L297.69,347.32 L298.62,346.32 L300.15,346.55 L301.31,347.71 L302.08,349.63 L303.23,350.02 L304.77,349.63 L305.92,349.63 L307.46,350.02 L309.00,350.78 L310.54,350.78 L312.08,349.63 L313.62,348.48 L315.15,347.71 L316.31,348.09 L317.46,349.25 L318.62,350.02 L319.77,349.25 L320.92,348.09 L322.08,347.32 L323.62,346.17 L324.77,345.40 L326.31,345.78 L327.85,346.94 L329.00,347.71 L329.38,351.40 L329.38,351.40 Z" fill="#2c4a85"/>
<path d="M411.23,351.40 L411.23,351.40 L411.55,347.09 L412.84,348.17 L414.46,349.25 L416.07,348.71 L417.69,348.17 L418.76,348.49 L420.38,348.71 L421.99,350.00 L424.15,350.32 L426.30,349.79 L427.91,347.63 L429.53,347.09 L431.14,347.63 L432.76,349.57 L434.91,349.79 L436.53,350.32 L438.14,350.86 L439.22,351.40 L439.22,351.40 Z" fill="#2c4a85"/>
<path d="M453.75,351.40 L453.75,351.40 L454.50,350.32 L455.90,349.25 L457.52,349.25 L459.13,350.32 L460.21,351.40 L460.21,351.40 Z" fill="#2c4a85"/>
<path d="M297.23,385.40 L297.23,385.40 L297.69,369.40 L298.62,368.63 L300.15,368.63 L301.31,370.17 L302.08,375.55 L302.85,381.32 L304.00,380.55 L305.15,378.63 L306.31,378.25 L307.46,379.40 L308.62,381.32 L309.77,383.63 L310.92,383.25 L312.08,381.32 L313.23,375.55 L314.38,372.86 L315.54,372.48 L316.69,374.02 L317.85,377.09 L319.00,380.55 L320.15,381.32 L321.31,378.63 L322.46,373.25 L323.62,369.40 L324.38,368.63 L328.62,368.63 L329.00,385.40 L329.00,385.40 Z" fill="#2c4a85"/>
<path d="M411.44,385.40 L411.44,385.40 L411.77,368.93 L412.84,370.55 L413.92,375.93 L415.00,377.54 L416.07,375.93 L417.69,372.16 L418.76,371.08 L419.84,372.16 L420.92,373.77 L421.99,376.47 L423.07,379.16 L424.15,380.23 L425.22,379.16 L426.84,375.93 L428.45,370.55 L429.53,369.25 L430.60,370.01 L431.68,373.77 L432.76,377.00 L433.83,379.69 L434.91,380.23 L435.99,379.16 L437.06,379.69 L438.14,381.85 L439.22,384.00 L439.75,385.40 L439.75,385.40 Z" fill="#2c4a85"/>
<path d="M453.21,385.40 L453.21,385.40 L454.07,382.39 L455.36,375.93 L456.44,373.77 L457.52,373.56 L458.38,375.93 L459.45,381.31 L460.53,384.54 L460.96,385.40 L460.96,385.40 Z" fill="#2c4a85"/>
<path d="M297.23,419.60 L297.23,419.60 L297.69,408.83 L298.62,406.52 L299.77,405.75 L300.92,406.14 L301.69,408.83 L302.46,416.52 L303.62,418.06 L304.77,415.37 L305.92,414.60 L307.08,414.98 L308.23,416.52 L309.38,418.83 L310.54,418.45 L312.08,416.52 L313.62,411.14 L314.77,409.60 L315.92,409.60 L317.08,411.52 L318.23,415.75 L319.38,417.29 L320.54,416.14 L321.69,413.45 L322.85,409.60 L324.00,406.52 L325.15,404.22 L325.92,403.06 L326.69,403.83 L327.46,405.37 L328.62,408.06 L329.00,419.60 L329.00,419.60 Z" fill="#2c4a85"/>
<path d="M411.44,419.60 L411.44,419.60 L411.77,407.76 L412.84,409.91 L413.92,414.22 L415.00,414.76 L416.07,413.68 L417.69,410.99 L418.76,410.13 L420.38,410.45 L421.46,412.07 L422.53,415.29 L423.61,416.37 L425.22,415.83 L426.84,412.07 L428.45,408.30 L430.07,408.84 L431.14,410.45 L432.22,412.07 L433.30,415.29 L434.91,415.29 L436.53,415.83 L437.60,417.45 L438.68,418.52 L439.22,419.60 L439.22,419.60 Z" fill="#2c4a85"/>
<path d="M453.75,419.60 L453.75,419.60 L454.29,416.37 L455.36,412.60 L456.98,411.20 L458.05,411.53 L459.13,415.29 L460.21,418.52 L460.74,419.60 L460.74,419.60 Z" fill="#2c4a85"/>
<text x="271.20" y="432.90" font-size="5.6" fill="#a8303f" stroke="#a8303f" stroke-width="0.08" textLength="19.00" lengthAdjust="spacingAndGlyphs">Hbb-b1</text>
<rect x="296.00" y="427.60" width="16.90" height="7.80" fill="#6ab344"/>
<rect x="312.90" y="424.40" width="16.20" height="14.40" fill="#2c4a85"/>
<line x1="329.00" y1="431.20" x2="411.30" y2="431.20" stroke="#2c4a85" stroke-width="1.2"/>
<line x1="439.40" y1="431.20" x2="453.70" y2="431.20" stroke="#2c4a85" stroke-width="1.2"/>
<rect x="411.30" y="424.20" width="28.10" height="14.60" fill="#2c4a85"/>
<rect x="453.70" y="424.20" width="11.50" height="14.60" fill="#2c4a85"/>
<rect x="465.20" y="427.60" width="7.20" height="7.80" fill="#6ab344"/>
<polyline points="372.80,428.70 370.30,431.20 372.80,433.70" fill="none" stroke="#2c4a85" stroke-width="1.3"/>
<polyline points="448.40,428.70 445.90,431.20 448.40,433.70" fill="none" stroke="#2c4a85" stroke-width="1.3"/>
<rect x="0.00" y="0.00" width="520.00" height="1.20" fill="#000"/>
<rect x="0.00" y="0.00" width="1.20" height="446.00" fill="#000"/>
<rect x="518.50" y="0.00" width="1.50" height="446.00" fill="#000"/>
<rect x="0.00" y="444.50" width="520.00" height="1.50" fill="#000"/>
</svg>
</body></html>
